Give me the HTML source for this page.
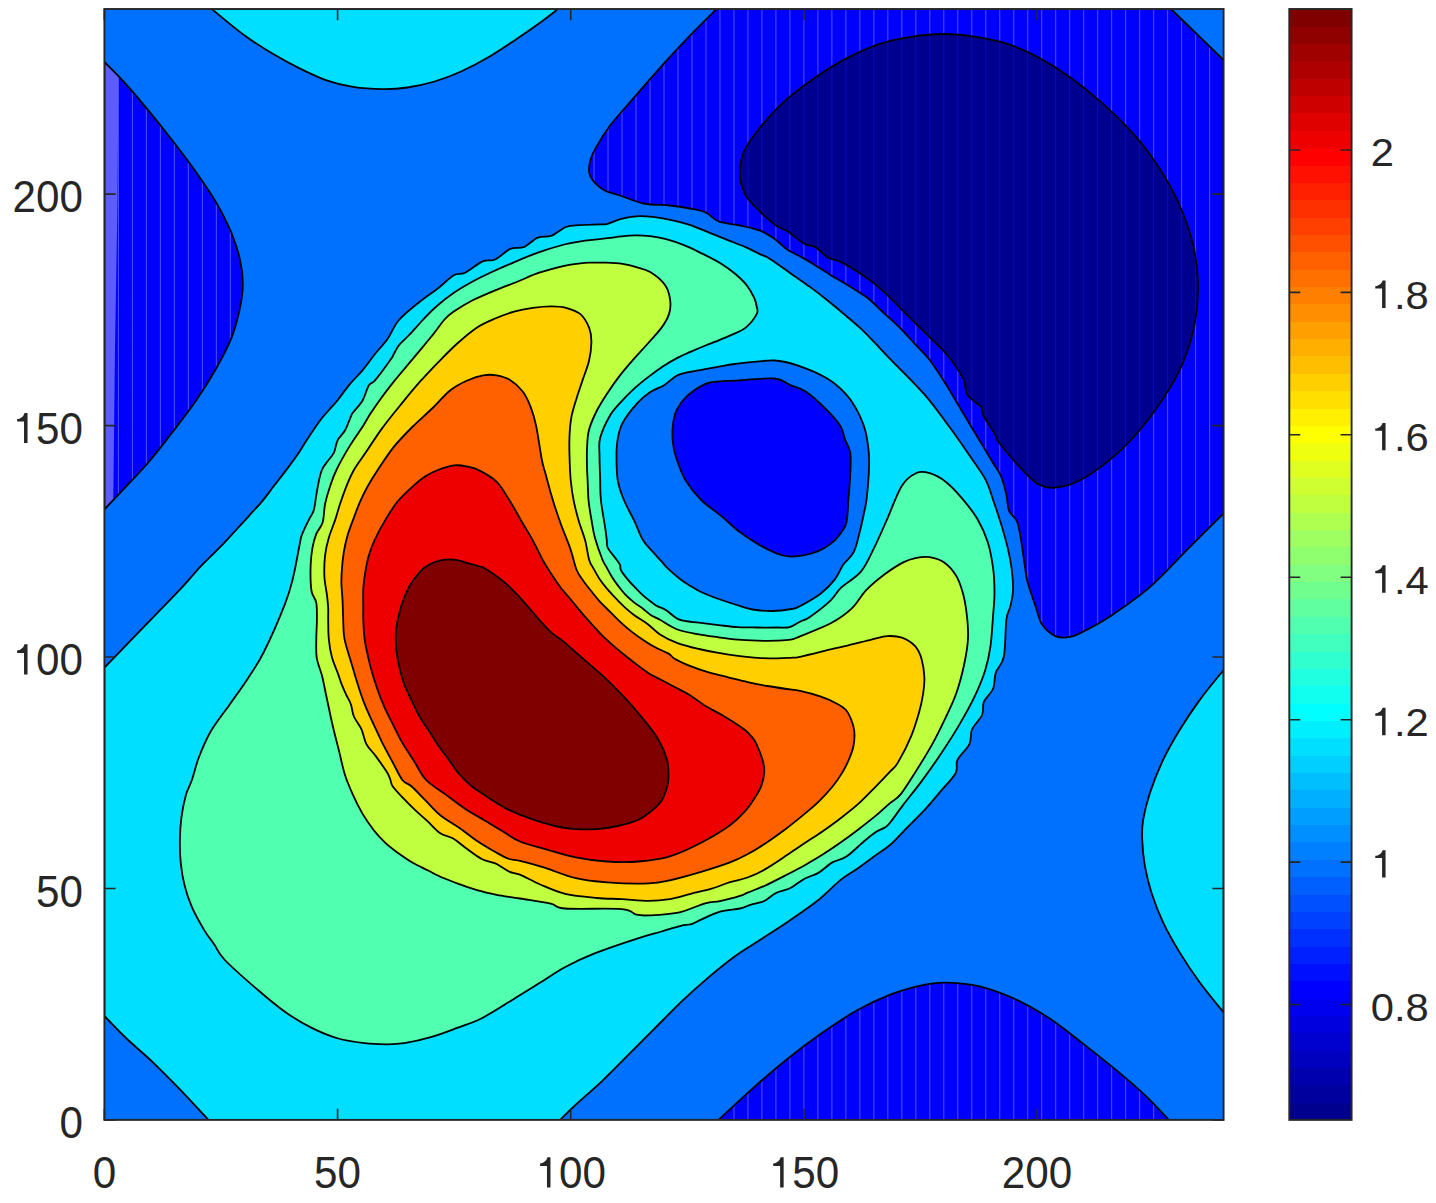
<!DOCTYPE html>
<html><head><meta charset="utf-8"><style>
html,body{margin:0;padding:0;background:#fff;}
svg{display:block;}
text{font-family:"Liberation Sans",sans-serif;fill:#262626;}
</style></head><body>
<svg width="1436" height="1203" viewBox="0 0 1436 1203">
<defs><clipPath id="cp"><rect x="104.4" y="9" width="1119.2" height="1110.9"/></clipPath>
<clipPath id="cb1"><path d="M104.4 62C107.7 65.3 116.7 73.9 123.9 81.9C131.2 89.9 139.9 100.2 147.9 109.9C155.9 119.6 163.8 129.5 171.8 139.8C179.8 150.1 188.5 161.4 195.8 171.7C203.1 182 209.7 191.3 215.7 201.6C221.7 211.9 227.6 223.5 231.7 233.5C235.8 243.5 238.6 252.8 240.4 261.5C242.2 270.1 242.9 277.4 242.8 285.4C242.7 293.4 241.5 300.8 239.7 309.4C237.8 318 235.7 327.3 231.7 337.3C227.7 347.3 221.7 358.6 215.7 369.2C209.7 379.8 203.1 390.5 195.8 401.1C188.5 411.7 179.8 422.7 171.8 433C163.8 443.3 155.9 453.7 147.9 463C139.9 472.3 131.2 481.1 123.9 488.9C116.7 496.6 107.7 506.1 104.4 509.5L104.4 62Z"/></clipPath>
<clipPath id="cblue"><path d="M104.4 62C107.7 65.3 116.7 73.9 123.9 81.9C131.2 89.9 139.9 100.2 147.9 109.9C155.9 119.6 163.8 129.5 171.8 139.8C179.8 150.1 188.5 161.4 195.8 171.7C203.1 182 209.7 191.3 215.7 201.6C221.7 211.9 227.6 223.5 231.7 233.5C235.8 243.5 238.6 252.8 240.4 261.5C242.2 270.1 242.9 277.4 242.8 285.4C242.7 293.4 241.5 300.8 239.7 309.4C237.8 318 235.7 327.3 231.7 337.3C227.7 347.3 221.7 358.6 215.7 369.2C209.7 379.8 203.1 390.5 195.8 401.1C188.5 411.7 179.8 422.7 171.8 433C163.8 443.3 155.9 453.7 147.9 463C139.9 472.3 131.2 481.1 123.9 488.9C116.7 496.6 107.7 506.1 104.4 509.5L104.4 62Z"/><path d="M716.6 9C712.1 13.5 698.8 26.4 689.7 35.9C680.6 45.4 671.1 55.5 661.8 65.8C652.5 76.1 642.4 87.8 633.8 97.8C625.1 107.8 616.2 117.4 609.9 125.7C603.6 134 599.2 141.6 595.9 147.6C592.6 153.6 591 156.9 590 161.6C589 166.3 587.9 170.9 590 175.6C592.1 180.2 597.9 186.2 602.9 189.5C607.9 192.8 613.1 193.2 619.9 195.5C626.7 197.8 635.5 201.8 643.8 203.5C652.1 205.2 662.1 204.7 669.8 205.5C677.4 206.3 683.7 207.3 689.7 208.5C695.7 209.7 700.9 210.3 705.7 212.5C710.5 214.7 713 219.2 718.6 221.4C724.2 223.6 732.8 223.9 739.6 225.4C746.4 226.9 753.8 228.2 759.5 230.4C765.2 232.6 769.3 235.3 774 238.5C778.7 241.7 782.9 246.6 787.5 249.8C792.2 252.9 796.9 254.5 802 257.4C807.1 260.3 812.9 263.8 817.9 266.9C822.9 270 827.2 273.1 831.9 275.9C836.5 278.7 841.1 281.1 845.8 283.9C850.4 286.7 855.8 290.1 859.8 292.8C863.8 295.5 865.6 296.3 869.8 299.8C873.9 303.3 879.7 309.2 884.7 313.8C889.7 318.4 894.7 322.7 899.7 327.7C904.7 332.7 909.6 338.3 914.6 343.7C919.6 349.1 924.5 353.3 929.7 360C934.8 366.7 940.3 375.4 945.6 383.8C950.8 392.2 956.1 401.4 961.4 410.3C966.7 419.1 972 427.9 977.3 436.7C982.6 445.5 989.2 456.6 993.2 463.2C997.2 469.8 998.9 471.1 1001.1 476.4C1003.3 481.7 1005.1 489.2 1006.4 494.9C1007.7 500.7 1007.3 506.4 1009.1 510.8C1010.8 515.2 1015 516.6 1017 521.4C1019 526.3 1019.7 532.4 1021 539.9C1022.3 547.4 1023.8 559.3 1024.9 566.4C1026 573.4 1025.8 575.7 1027.6 582.3C1029.4 588.9 1033.1 599 1035.5 606.1C1038 613.1 1038.8 619.6 1042.1 624.6C1045.5 629.6 1050.7 634.1 1055.4 636.1C1060 638.2 1065.3 637.7 1069.9 636.9C1074.6 636.2 1076.5 635 1083.2 631.6C1089.8 628.2 1098.6 624 1109.6 616.7C1120.6 609.3 1136.1 599 1149.3 587.6C1162.5 576.1 1176.6 560.2 1189 547.9C1201.4 535.5 1217.8 519.2 1223.6 513.5L1223.6 60C1219.2 55.7 1205.7 42.6 1196.9 34.1C1188.2 25.6 1175.3 13.2 1171 9L716.6 9Z"/><path d="M718.5 1119.9C724.1 1114.7 740.8 1098.9 752.2 1088.8C763.6 1078.7 775.4 1068.5 787 1059.2C798.6 1049.9 810.3 1041.2 821.9 1033.1C833.5 1025 845.1 1017 856.7 1010.5C868.3 1004 879.9 998.5 891.5 994.1C903.1 989.8 917 986.3 926.3 984.4C935.6 982.5 938.5 982.3 947.2 982.6C955.9 982.9 967.6 983.5 978.6 986.1C989.6 988.7 1001.8 993.1 1013.4 998.3C1025 1003.5 1036.6 1010 1048.2 1017.5C1059.8 1025 1071.4 1034.6 1083 1043.6C1094.6 1052.6 1107.3 1062.7 1117.8 1071.4C1128.2 1080.1 1137.2 1087.7 1145.7 1095.8C1154.2 1103.9 1165.1 1115.9 1169 1119.9L718.5 1119.9Z"/></clipPath>
<clipPath id="cnavy"><path d="M740 175.6C739.7 168.3 740.6 159.7 743.9 151.7C747.2 143.7 753.2 136 759.9 127.7C766.5 119.4 775.1 109.8 783.8 101.8C792.4 93.8 801.8 86.9 811.8 79.9C821.8 72.9 832.4 65.9 843.7 59.9C855 53.9 868.3 47.8 879.6 43.9C890.9 40 900.9 38.4 911.5 36.8C922.1 35.1 932.8 34 943.4 34C954 34 964.8 35.1 975.4 36.8C986 38.4 996.7 40.4 1007.3 43.9C1017.9 47.4 1028.6 52.2 1039.2 57.9C1049.8 63.6 1060.4 70.2 1071.1 77.9C1081.8 85.6 1092.4 94.2 1103.1 103.8C1113.8 113.4 1125.7 125.1 1135 135.7C1144.3 146.3 1151.6 156.3 1158.9 167.6C1166.2 178.9 1173.2 190.8 1178.9 203.5C1184.6 216.2 1189.6 230.2 1192.8 243.5C1196 256.8 1197.7 270.1 1198 283.4C1198.3 296.7 1197.3 310 1194.8 323.3C1192.3 336.6 1188.1 350.6 1182.8 363.2C1177.5 375.8 1170.2 387.8 1162.9 399.1C1155.6 410.4 1147.7 421 1139 431C1130.3 441 1121 450.6 1111 458.9C1101 467.2 1088.4 476 1079.1 480.8C1069.8 485.6 1061.8 487 1055.2 487.7C1048.6 488.4 1044.5 487.6 1039.2 484.8C1033.9 482 1029.9 477.9 1023.2 470.9C1016.6 463.9 1003.9 449 999.3 443C994.6 437 998 439.7 995.3 435C992.6 430.3 985.6 419.7 983.3 415C981 410.3 983.9 410.3 981.3 407C978.6 403.7 970.4 399.8 967.4 395.1C964.4 390.5 966.7 385.8 963.4 379.1C960.1 372.5 953.4 362.5 947.4 355.2C941.4 347.9 934.1 341.8 927.5 335.2C920.9 328.6 914.1 321.9 907.5 315.3C900.9 308.7 893.6 301 887.6 295.3C881.6 289.6 878.9 286.7 871.6 281.4C864.3 276.1 851 267.4 843.7 263.4C836.4 259.4 832.4 260.1 827.7 257.4C823.1 254.7 819.8 249.7 815.8 247.4C811.8 245.1 808.5 246.2 803.8 243.5C799.1 240.8 792.4 234.5 787.8 231.5C783.1 228.5 780.5 228.8 775.9 225.5C771.2 222.2 764.9 216.5 759.9 211.5C754.9 206.5 749.2 201.6 745.9 195.6C742.6 189.6 740.3 182.9 740 175.6Z"/></clipPath>
<clipPath id="chole"><path d="M720 381.4C715.1 381.9 711 381.4 705.5 383.9C700 386.4 691.5 392 686.7 396.4C681.9 400.8 678.9 405.4 676.6 410.2C674.3 415 673.5 419.9 672.9 425.3C672.3 430.7 672.3 437.2 672.9 442.8C673.5 448.4 674.5 452.9 676.6 459.1C678.7 465.3 681.3 473.2 685.4 480C689.5 486.8 695.1 493.9 701.2 500C707.3 506.1 715.8 511.5 722.1 516.7C728.4 521.9 732.9 526.8 738.8 531.3C744.7 535.8 751.3 540.2 757.6 543.9C763.9 547.6 771.2 551.2 776.4 553.3C781.6 555.4 784.4 556 788.9 556.4C793.4 556.8 798.6 556.3 803.5 555.4C808.4 554.5 813.7 553.1 818.2 551.2C822.7 549.3 827.2 546.5 830.7 543.9C834.2 541.3 836.4 539 839 535.5C841.6 532 844.7 528.9 846.3 523C847.9 517.1 847.7 508.2 848.4 500C849.1 491.8 850 481.7 850.3 473.8C850.6 465.9 851.2 458.3 850.3 452.6C849.4 446.9 846.6 443.8 845 439.4C843.4 435 843.5 431 840.5 426.1C837.5 421.2 832.9 416 827.2 410.3C821.5 404.6 812.3 395.9 806.1 391.7C799.9 387.5 795.5 387.3 790.2 385.1C784.9 382.9 783.6 379.2 774.3 378.5C765 377.8 743.6 380.1 734.6 380.6C725.6 381.1 724.9 380.8 720 381.4Z"/></clipPath>
<pattern id="stb" patternUnits="userSpaceOnUse" x="103.9" y="0" width="13.99" height="1203"><rect x="0" y="0" width="1" height="1203" fill="rgb(80,80,255)"/></pattern>
<pattern id="stn" patternUnits="userSpaceOnUse" x="103.9" y="0" width="13.99" height="1203"><rect x="0" y="0" width="1" height="1203" fill="rgb(10,10,190)"/></pattern>
</defs>
<rect width="1436" height="1203" fill="#fff"/>
<g clip-path="url(#cp)">
<rect x="104.4" y="9.0" width="1119.2" height="1110.9" fill="rgb(0,112,255)"/>
<path d="M104.4 62C107.7 65.3 116.7 73.9 123.9 81.9C131.2 89.9 139.9 100.2 147.9 109.9C155.9 119.6 163.8 129.5 171.8 139.8C179.8 150.1 188.5 161.4 195.8 171.7C203.1 182 209.7 191.3 215.7 201.6C221.7 211.9 227.6 223.5 231.7 233.5C235.8 243.5 238.6 252.8 240.4 261.5C242.2 270.1 242.9 277.4 242.8 285.4C242.7 293.4 241.5 300.8 239.7 309.4C237.8 318 235.7 327.3 231.7 337.3C227.7 347.3 221.7 358.6 215.7 369.2C209.7 379.8 203.1 390.5 195.8 401.1C188.5 411.7 179.8 422.7 171.8 433C163.8 443.3 155.9 453.7 147.9 463C139.9 472.3 131.2 481.1 123.9 488.9C116.7 496.6 107.7 506.1 104.4 509.5L104.4 62Z" fill="rgb(0,0,255)"/>
<path d="M716.6 9C712.1 13.5 698.8 26.4 689.7 35.9C680.6 45.4 671.1 55.5 661.8 65.8C652.5 76.1 642.4 87.8 633.8 97.8C625.1 107.8 616.2 117.4 609.9 125.7C603.6 134 599.2 141.6 595.9 147.6C592.6 153.6 591 156.9 590 161.6C589 166.3 587.9 170.9 590 175.6C592.1 180.2 597.9 186.2 602.9 189.5C607.9 192.8 613.1 193.2 619.9 195.5C626.7 197.8 635.5 201.8 643.8 203.5C652.1 205.2 662.1 204.7 669.8 205.5C677.4 206.3 683.7 207.3 689.7 208.5C695.7 209.7 700.9 210.3 705.7 212.5C710.5 214.7 713 219.2 718.6 221.4C724.2 223.6 732.8 223.9 739.6 225.4C746.4 226.9 753.8 228.2 759.5 230.4C765.2 232.6 769.3 235.3 774 238.5C778.7 241.7 782.9 246.6 787.5 249.8C792.2 252.9 796.9 254.5 802 257.4C807.1 260.3 812.9 263.8 817.9 266.9C822.9 270 827.2 273.1 831.9 275.9C836.5 278.7 841.1 281.1 845.8 283.9C850.4 286.7 855.8 290.1 859.8 292.8C863.8 295.5 865.6 296.3 869.8 299.8C873.9 303.3 879.7 309.2 884.7 313.8C889.7 318.4 894.7 322.7 899.7 327.7C904.7 332.7 909.6 338.3 914.6 343.7C919.6 349.1 924.5 353.3 929.7 360C934.8 366.7 940.3 375.4 945.6 383.8C950.8 392.2 956.1 401.4 961.4 410.3C966.7 419.1 972 427.9 977.3 436.7C982.6 445.5 989.2 456.6 993.2 463.2C997.2 469.8 998.9 471.1 1001.1 476.4C1003.3 481.7 1005.1 489.2 1006.4 494.9C1007.7 500.7 1007.3 506.4 1009.1 510.8C1010.8 515.2 1015 516.6 1017 521.4C1019 526.3 1019.7 532.4 1021 539.9C1022.3 547.4 1023.8 559.3 1024.9 566.4C1026 573.4 1025.8 575.7 1027.6 582.3C1029.4 588.9 1033.1 599 1035.5 606.1C1038 613.1 1038.8 619.6 1042.1 624.6C1045.5 629.6 1050.7 634.1 1055.4 636.1C1060 638.2 1065.3 637.7 1069.9 636.9C1074.6 636.2 1076.5 635 1083.2 631.6C1089.8 628.2 1098.6 624 1109.6 616.7C1120.6 609.3 1136.1 599 1149.3 587.6C1162.5 576.1 1176.6 560.2 1189 547.9C1201.4 535.5 1217.8 519.2 1223.6 513.5L1223.6 60C1219.2 55.7 1205.7 42.6 1196.9 34.1C1188.2 25.6 1175.3 13.2 1171 9L716.6 9Z" fill="rgb(0,0,255)"/>
<path d="M718.5 1119.9C724.1 1114.7 740.8 1098.9 752.2 1088.8C763.6 1078.7 775.4 1068.5 787 1059.2C798.6 1049.9 810.3 1041.2 821.9 1033.1C833.5 1025 845.1 1017 856.7 1010.5C868.3 1004 879.9 998.5 891.5 994.1C903.1 989.8 917 986.3 926.3 984.4C935.6 982.5 938.5 982.3 947.2 982.6C955.9 982.9 967.6 983.5 978.6 986.1C989.6 988.7 1001.8 993.1 1013.4 998.3C1025 1003.5 1036.6 1010 1048.2 1017.5C1059.8 1025 1071.4 1034.6 1083 1043.6C1094.6 1052.6 1107.3 1062.7 1117.8 1071.4C1128.2 1080.1 1137.2 1087.7 1145.7 1095.8C1154.2 1103.9 1165.1 1115.9 1169 1119.9L718.5 1119.9Z" fill="rgb(0,0,255)"/>
<rect x="104.4" y="9" width="1119.2" height="1110.9" fill="url(#stb)" clip-path="url(#cblue)"/>
<path d="M104 58L118.5 58L117.5 200L115 350L113.2 509L104 514Z" fill="rgb(92,92,255)" clip-path="url(#cb1)"/>
<path d="M740 175.6C739.7 168.3 740.6 159.7 743.9 151.7C747.2 143.7 753.2 136 759.9 127.7C766.5 119.4 775.1 109.8 783.8 101.8C792.4 93.8 801.8 86.9 811.8 79.9C821.8 72.9 832.4 65.9 843.7 59.9C855 53.9 868.3 47.8 879.6 43.9C890.9 40 900.9 38.4 911.5 36.8C922.1 35.1 932.8 34 943.4 34C954 34 964.8 35.1 975.4 36.8C986 38.4 996.7 40.4 1007.3 43.9C1017.9 47.4 1028.6 52.2 1039.2 57.9C1049.8 63.6 1060.4 70.2 1071.1 77.9C1081.8 85.6 1092.4 94.2 1103.1 103.8C1113.8 113.4 1125.7 125.1 1135 135.7C1144.3 146.3 1151.6 156.3 1158.9 167.6C1166.2 178.9 1173.2 190.8 1178.9 203.5C1184.6 216.2 1189.6 230.2 1192.8 243.5C1196 256.8 1197.7 270.1 1198 283.4C1198.3 296.7 1197.3 310 1194.8 323.3C1192.3 336.6 1188.1 350.6 1182.8 363.2C1177.5 375.8 1170.2 387.8 1162.9 399.1C1155.6 410.4 1147.7 421 1139 431C1130.3 441 1121 450.6 1111 458.9C1101 467.2 1088.4 476 1079.1 480.8C1069.8 485.6 1061.8 487 1055.2 487.7C1048.6 488.4 1044.5 487.6 1039.2 484.8C1033.9 482 1029.9 477.9 1023.2 470.9C1016.6 463.9 1003.9 449 999.3 443C994.6 437 998 439.7 995.3 435C992.6 430.3 985.6 419.7 983.3 415C981 410.3 983.9 410.3 981.3 407C978.6 403.7 970.4 399.8 967.4 395.1C964.4 390.5 966.7 385.8 963.4 379.1C960.1 372.5 953.4 362.5 947.4 355.2C941.4 347.9 934.1 341.8 927.5 335.2C920.9 328.6 914.1 321.9 907.5 315.3C900.9 308.7 893.6 301 887.6 295.3C881.6 289.6 878.9 286.7 871.6 281.4C864.3 276.1 851 267.4 843.7 263.4C836.4 259.4 832.4 260.1 827.7 257.4C823.1 254.7 819.8 249.7 815.8 247.4C811.8 245.1 808.5 246.2 803.8 243.5C799.1 240.8 792.4 234.5 787.8 231.5C783.1 228.5 780.5 228.8 775.9 225.5C771.2 222.2 764.9 216.5 759.9 211.5C754.9 206.5 749.2 201.6 745.9 195.6C742.6 189.6 740.3 182.9 740 175.6Z" fill="rgb(0,0,143)"/>
<rect x="104.4" y="9" width="1119.2" height="1110.9" fill="url(#stn)" clip-path="url(#cnavy)"/>
<path d="M211.7 9C217.1 13.4 234.3 28 244.3 35.3C254.3 42.6 262.4 47.6 271.5 53C280.6 58.4 289.6 63.4 298.6 67.9C307.7 72.4 316.7 76.9 325.8 80.1C334.9 83.3 343.5 85.4 353 86.9C362.5 88.4 373.8 89 382.8 89.1C391.9 89.2 398.7 88.8 407.3 87.5C415.9 86.2 425.4 84.2 434.5 81.5C443.6 78.8 452.6 75.3 461.6 71.2C470.7 67.1 479.8 62.3 488.8 57C497.9 51.7 506.8 45.5 515.9 39.4C524.9 33.3 536.1 25.5 543.1 20.4C550.1 15.3 555.5 10.9 558 9L211.7 9Z" fill="rgb(0,223,255)"/>
<path d="M104.4 667.6C108.7 663.2 121.4 650.1 130 641.2C138.6 632.3 147.3 623.3 156 614.3C164.7 605.3 174.7 595.3 182 587.4C189.3 579.5 194.9 572.5 200 567.1C205.1 561.7 208.3 558.9 212.5 554.7C216.7 550.6 220.8 546.6 224.9 542.2C229.1 537.8 233.2 533.1 237.4 528.5C241.6 523.9 245.8 519.4 249.9 514.8C254.1 510.2 258.2 506.1 262.3 501.1C266.4 496.1 270.6 490.2 274.8 484.8C279 479.4 283.1 474.2 287.3 468.6C291.5 463 296.7 455.8 299.8 451.2C302.9 446.6 302.7 446.2 306 441.2C309.3 436.2 315.9 426.2 319.7 421C323.5 415.8 326 413.5 329 410C332 406.5 334.1 404.6 337.6 400.2C341.1 395.8 345.9 388.9 350.1 383.9C354.3 378.9 358.5 375.1 362.7 370.1C366.9 365.1 371 359 375.2 353.8C379.4 348.6 383.7 344.4 387.7 338.8C391.7 333.2 393.6 326.2 399 320C404.4 313.8 413.4 306.9 420 301.5C426.6 296.1 433.2 292.1 438.8 287.7C444.4 283.3 449.4 277.7 453.8 275.2C458.2 272.7 460.3 275 465.1 272.7C469.9 270.4 477.7 263.6 482.7 261.4C487.7 259.2 490.6 261.6 495.2 259.5C499.8 257.4 505.5 251 510.3 248.9C515.1 246.8 519.4 248.9 524 247C528.6 245.1 533.2 239.5 537.8 237.6C542.4 235.7 546.9 237.5 551.6 235.7C556.3 233.9 561.4 228.8 566 227C570.6 225.2 573.5 225.5 579.2 225.1C584.9 224.7 595.3 224.6 600 224.4C604.7 224.2 604 224.7 607.5 223.8C611 222.9 616.5 220.1 621.3 218.8C626.1 217.6 631.2 216.6 636.4 216.3C641.6 216 646.9 216.3 652.7 216.9C658.6 217.5 665.2 218.7 671.5 220.1C677.8 221.5 684 223 690.3 225.1C696.6 227.2 702.8 230.1 709.1 232.6C715.4 235.1 721.6 237.6 727.9 240.1C734.2 242.6 741.5 245.3 746.7 247.6C751.9 249.9 755.3 252 759.2 253.9C763.1 255.8 764.9 255.7 770 258.9C775.1 262.1 783.4 268.2 790 272.9C796.6 277.6 803.6 282.2 809.9 286.9C816.2 291.5 822.1 296.1 827.9 300.8C833.7 305.5 839.5 310.3 844.8 314.8C850.1 319.3 854.8 323.1 859.8 327.7C864.8 332.3 869.7 337.5 874.7 342.7C879.7 347.9 881.4 350 889.7 358.6C898 367.2 914.2 382.7 924.4 394.4C934.6 406.1 943.3 418.6 950.8 428.8C958.3 439 963.6 446.9 969.4 455.3C975.1 463.7 981.3 471.6 985.3 479.1C989.3 486.6 990.6 492.7 993.2 500.2C995.8 507.7 998.7 516.1 1001.1 524.1C1003.5 532.1 1005.9 540.4 1007.7 547.9C1009.5 555.4 1010.8 562 1011.7 569C1012.6 576 1013.2 584 1013 590.2C1012.8 596.4 1011.5 601.2 1010.4 606.1C1009.3 611 1007.5 610.8 1006.4 619.3C1005.3 627.8 1005.6 647.9 1003.8 656.8C1002 665.7 997.6 667.3 995.8 672.6C994 677.9 995.2 683.6 993.2 688.5C991.2 693.4 985.8 697.3 983.9 701.7C982 706.1 984.1 710.4 982.1 715C980.1 719.6 974.1 724.6 972 729.5C969.9 734.4 971.8 739 969.4 744.1C967 749.2 959.8 755.1 957.5 760C955.2 764.9 958.5 767.9 955.6 773.2C952.7 778.5 945.5 785.5 940.3 791.7C935.1 797.9 930.1 804 924.4 810.2C918.7 816.4 911.6 823 905.9 828.8C900.2 834.6 895.1 840.6 890 845C884.9 849.4 880.8 851.5 875.5 855.4C870.2 859.3 863.8 864.1 858 868.2C852.2 872.3 847.2 874.6 840.6 879.9C834 885.2 827.2 893 818.4 900C809.5 907 797 915.5 787.5 922C778 928.5 769.9 933.5 761.1 939.2C752.3 944.9 743.4 950 734.6 956.4C725.8 962.8 717 970.1 708.2 977.6C699.4 985.1 690.5 993 681.7 1001.4C672.9 1009.8 664 1019.1 655.2 1027.9C646.4 1036.7 637.6 1045.6 628.8 1054.4C620 1063.2 611.1 1072.4 602.3 1080.8C593.5 1089.2 582.8 1098.1 575.8 1104.6C568.8 1111.1 562.6 1117.4 560 1119.9L208.5 1119.9C203.7 1114.7 188.7 1098.4 179.4 1088.8C170.1 1079.2 161.7 1070.7 152.9 1062.3C144.1 1053.9 134.6 1046.2 126.5 1038.5C118.4 1030.8 108.1 1019.8 104.4 1016L104.4 667.6Z" fill="rgb(0,223,255)"/>
<path d="M1223.6 670C1219.6 675 1207.1 689.9 1199.8 699.9C1192.5 709.9 1185.9 719.8 1179.8 729.8C1173.7 739.8 1168.2 749.2 1163.2 759.7C1158.2 770.2 1153.2 783 1149.9 793C1146.6 803 1144.5 811.9 1143.2 819.6C1141.9 827.4 1141.9 831.8 1142.2 839.5C1142.5 847.2 1143.4 857.2 1144.9 866.1C1146.5 875 1148.5 883.3 1151.5 892.7C1154.5 902.1 1158.5 912.6 1163.2 922.6C1167.9 932.6 1173.7 942.6 1179.8 952.6C1185.9 962.6 1192.5 972.5 1199.8 982.5C1207.1 992.5 1219.6 1007.4 1223.6 1012.4L1223.6 670Z" fill="rgb(0,223,255)"/>
<path d="M422.8 320C418.3 324.8 413.1 330.8 409.1 335C405.1 339.2 401.5 342 399 345.1C396.5 348.2 395.4 351.3 394 353.8C392.6 356.3 393.4 355.7 390.3 360.1C387.2 364.5 378.8 376 375.2 380.2C371.6 384.4 371 381.9 368.9 385.2C366.8 388.5 365.2 395.8 362.7 400.2C360.2 404.6 355.8 409 353.9 411.5C352 414 352.9 412.2 351.4 415.3C349.9 418.4 347.4 426.1 345.1 430.3C342.8 434.5 339.5 436.5 337.6 440.3C335.7 444.1 335.7 449.1 333.8 452.9C331.9 456.7 328.3 460 326.3 462.9C324.3 465.8 323.1 466.9 321.9 470C320.6 473.1 319.7 477.1 318.8 481.3C317.9 485.5 317.1 490.3 316.3 495.1C315.5 499.9 314.9 506.4 313.8 510.1C312.8 513.9 311.5 514.7 310 517.6C308.5 520.5 306.4 524.6 305 527.7C303.6 530.8 302.2 533.5 301.3 536.4C300.4 539.3 300.9 538.4 299.5 545.2C298.1 552 295.6 567.3 293.2 577C290.8 586.7 290 591 285.2 603.4C280.4 615.8 270.3 639.1 264.1 651.5C257.9 663.9 253.9 669.1 248.2 677.9C242.5 686.7 235.9 695.6 229.7 704.4C223.5 713.2 216.2 722 211.1 730.8C206 739.6 202.2 748.8 199 757C195.8 765.2 194.1 773.7 191.9 780C189.7 786.3 187.7 788.8 185.9 795C184.2 801.2 182.4 809.9 181.4 817.4C180.4 824.9 180 832.4 179.9 839.9C179.8 847.4 179.9 854.8 180.7 862.3C181.4 869.8 182.5 877.2 184.4 884.7C186.3 892.2 188.7 899.7 191.9 907.2C195.2 914.7 200.2 923.4 203.9 929.6C207.6 935.8 210.8 939.5 214.3 944.6C217.8 949.7 217.4 952.3 224.8 960C232.2 967.7 248.7 982.1 258.8 990.8C268.9 999.5 276.4 1005.8 285.2 1012C294 1018.2 302.9 1023.5 311.7 1027.9C320.5 1032.3 329.4 1036 338.2 1038.5C347 1041 356.7 1042.2 364.6 1043.2C372.5 1044.2 379.2 1044.3 385.8 1044.3C392.4 1044.3 396.8 1044.4 404.3 1043.2C411.8 1042 422 1039.8 430.8 1037.2C439.6 1034.7 448.7 1031.1 457.2 1027.9C465.7 1024.7 472.5 1023 481.8 1018.2C491.1 1013.5 503.4 1005.3 513.1 999.4C522.9 993.5 531.6 988 540.3 982.6C549 977.2 556.2 971.9 565.3 967C574.3 962.1 582.8 958.1 594.6 953.4C606.5 948.7 625.3 942.4 636.4 938.8C647.5 935.1 653.6 933.8 661.4 931.5C669.2 929.2 678.3 926.4 683.4 925.2C688.5 924 688.8 925 691.7 924.1C694.7 923.2 696.4 921.7 701.1 919.6C705.8 917.5 713.5 913.5 720 911.6C726.5 909.8 734.9 909.6 740 908.5C745.1 907.4 747 905.8 750.5 904.8C754 903.8 758.5 903 761.1 902.2C763.7 901.4 763.5 901.6 766.1 900C768.7 898.4 772.4 894.7 776.5 892.7C780.6 890.7 785.8 890.3 790.5 888C795.2 885.7 799.9 881.2 804.5 878.7C809.1 876.2 813.8 875.6 818.4 872.9C823 870.2 827.7 865.1 832.4 862.4C837.1 859.7 841.2 860.1 846.4 856.6C851.6 853.1 858.9 845.6 863.8 841.5C868.6 837.4 872 834.5 875.5 832.2C879 829.9 882.4 829.1 884.8 827.5C887.2 825.9 886.9 826.6 890 822.8C893.1 819 897.9 811.8 903.2 804.9C908.5 798 915.5 789.5 921.7 781.1C927.9 772.7 934.1 764 940.3 754.7C946.5 745.5 953.1 735.3 958.8 725.6C964.5 715.9 970.3 705.7 974.7 696.4C979.1 687.1 982.7 678.4 985.3 670C987.9 661.6 989.2 655.5 990.5 646.2C991.8 636.9 992.5 622.9 993.2 614C993.9 605.1 994.5 600.4 994.5 592.9C994.5 585.4 994.3 577.4 993.2 569C992.1 560.6 990.5 551 987.9 542.6C985.2 534.2 981.7 526.3 977.3 518.8C972.9 511.3 966.7 503.8 961.4 497.6C956.1 491.4 950.9 485.8 945.6 481.7C940.3 477.6 934.6 474.6 929.7 473.2C924.8 471.8 921 470.9 916.4 473C911.8 475.1 906.8 478.1 901.9 485.7C897 493.3 891.9 508.4 887.3 518.8C882.7 529.2 878.5 539.1 874.1 547.9C869.7 556.7 866.4 565.1 860.9 571.7C855.4 578.3 846.1 582.9 841.1 587.7C836.1 592.5 835.9 595.4 830.7 600.3C825.5 605.2 814.9 613.4 809.8 617C804.7 620.6 803.4 620 800 621.7C796.6 623.4 793.5 626.1 789.7 627.1C785.9 628.1 782.4 627.4 777 627.5C771.6 627.6 764 627.6 757.5 627.5C751 627.4 744.5 627.5 738 627.1C731.5 626.7 725 625.8 718.5 625.1C712 624.4 705.5 623.6 699 622.7C692.5 621.8 685 621.8 679.5 619.7C674 617.6 669.6 612.3 665.8 610C662 607.7 659.4 607.4 656.9 606C654.4 604.6 653.4 603.6 651 601.8C648.6 600 645.5 597.6 642.7 595.1C639.9 592.6 636.9 589.5 634.3 586.7C631.6 583.9 629 581.2 626.8 578.4C624.6 575.6 622 572.2 620.9 570C619.8 567.8 620.8 566.7 620.1 565C619.4 563.3 618.8 562.9 616.8 560C614.8 557.1 609.5 551.1 607.8 547.8C606.1 544.5 607.2 543.4 606.8 540C606.3 536.6 606.1 533.9 605.1 527.2C604.1 520.5 601.7 507.9 600.9 500C600.1 492.1 600.4 487.4 600.2 480C600 472.6 599.5 462.4 599.5 455.4C599.5 448.4 598.4 444.5 600.2 437.8C602 431.1 606.5 421.5 610.2 415.2C614 408.9 618.5 404.8 622.7 400.2C626.9 395.6 630.9 391.7 635.3 387.7C639.7 383.7 644.5 379.9 649.1 376.4C653.7 372.8 658 369.5 662.8 366.4C667.6 363.3 673.3 360 677.9 357.6C682.5 355.2 685.6 354 690.4 351.9C695.2 349.8 702.5 346.7 706.7 345C710.9 343.3 711.5 343.3 715.4 341.7C719.3 340.1 725.4 337.7 730.4 335.4C735.4 333.1 741 331.4 745.4 327.9C749.8 324.3 754.8 317.7 756.7 314.1C758.6 310.5 757.1 309.2 756.7 306.5C756.3 303.8 755.9 301.4 754.2 297.8C752.5 294.2 749.8 289.2 746.7 285.2C743.6 281.2 739.6 277.6 735.4 274C731.2 270.4 727 267.2 721.6 263.9C716.2 260.5 709.1 257 702.8 253.9C696.5 250.8 690.3 247.6 684 245.1C677.7 242.6 670.8 240.4 665.2 238.9C659.6 237.4 655.2 236.7 650.2 236.1C645.2 235.5 639.9 235.2 635.1 235.3C630.3 235.4 625.9 235.9 621.3 236.4C616.7 236.9 612.7 237.6 607.5 238.2C602.3 238.8 594.5 239.6 590 240.1C585.5 240.6 584.7 240.7 580.4 241.4C576.1 242.1 571.3 242.6 564.2 244.5C557.1 246.4 546.8 249.4 537.8 252.6C528.8 255.8 518.2 260.5 510.3 263.9C502.4 267.2 496.5 269.8 490.2 272.7C483.9 275.6 478.7 278.1 472.6 281.5C466.5 284.9 459.9 288.6 453.8 292.8C447.8 297 441.5 302 436.3 306.5C431.1 311 427.3 315.2 422.8 320Z" fill="rgb(80,255,175)"/>
<path d="M445 319C441.3 323.1 435.9 330.9 431.6 336.3C427.3 341.7 423.3 346.3 419.1 351.3C414.9 356.3 410.7 361.4 406.5 366.4C402.3 371.4 398.2 376.2 394 381.4C389.8 386.6 385.5 392.3 381.5 397.7C377.5 403.1 373.3 409.2 370.2 414C367.1 418.8 366 421.3 362.7 426.5C359.4 431.7 354.5 438.1 350.1 445.4C345.7 452.6 339.7 463.2 336.4 470C333.1 476.8 332 480.7 330.1 486.3C328.2 491.9 326.4 497.8 325.1 503.8C323.9 509.9 324.1 517.6 322.6 522.6C321.1 527.6 318 529.7 316.3 533.9C314.6 538.1 313.4 542.7 312.5 547.7C311.6 552.7 311 558.1 310.7 564C310.4 569.9 310.5 578 310.7 582.8C310.9 587.6 311 589.5 311.9 592.8C312.8 596.1 315.5 598.3 316.3 602.8C317.1 607.3 316.9 614 316.9 620C316.9 626 316.3 632.5 316.3 638.8C316.3 645.1 315.8 651.5 316.7 657.6C317.6 663.7 320.5 669.8 321.9 675.2C323.3 680.6 324 684.8 325.1 690.2C326.2 695.6 327.4 701 328.8 707.7C330.2 714.4 332.1 723.2 333.8 730.3C335.5 737.4 337 742.9 338.9 750.4C340.8 757.9 342.7 767.8 345 775C347.3 782.2 349.6 787.3 352.5 793.8C355.4 800.3 359.1 807.8 362.6 813.9C366.2 820 370.1 825.4 373.8 830.2C377.6 835 381.1 838.9 385.1 842.7C389.1 846.5 393.1 849.4 397.7 852.8C402.3 856.1 407.7 859.9 412.7 862.8C417.7 865.7 422.7 867.8 427.7 870.3C432.7 872.8 437.6 875.5 442.8 877.8C448 880.1 453.2 882 459.1 884.1C465 886.2 471.6 888.6 477.9 890.4C484.2 892.2 489.7 893.4 496.7 894.8C503.7 896.1 511 897 520 898.5C529 900 543.2 902 550.7 903.7C558.2 905.4 553.4 907.6 565.3 908.5C577.1 909.4 609.9 908.1 621.8 909.1C633.6 910.1 631.9 913.7 636.4 914.7C640.9 915.8 641.9 915.7 648.9 915.4C655.9 915.1 668.8 914.7 678.2 912.7C687.6 910.7 698.3 905.2 705.3 903.3C712.2 901.4 714.1 902.4 719.9 901.2C725.7 900 735.4 897.3 740 895.9C744.6 894.5 743.4 894.4 747.5 892.7C751.6 891 758.1 888.8 764.9 885.7C771.7 882.6 781.4 877.5 788.2 874C795 870.5 799.8 868 805.6 864.7C811.4 861.4 817.3 858 823.1 854.3C828.9 850.6 834.8 846.7 840.6 842.6C846.4 838.5 852.2 834.2 858 829.8C863.8 825.3 870.2 820.3 875.5 815.9C880.8 811.5 885.8 806.7 890 803.1C894.2 799.5 896.2 799.8 900.6 794.4C905 789 911.1 778.9 916.4 770.5C921.7 762.1 927.4 752.9 932.3 744.1C937.2 735.3 941.6 726 945.6 717.6C949.6 709.2 953 702.6 956.1 693.8C959.2 685 962.1 674 964.1 664.7C966.1 655.4 967.6 646.7 968 638.2C968.4 629.8 967.6 621.6 966.7 614C965.8 606.4 964.6 599.2 962.8 592.8C961 586.4 959.2 580.7 956.1 575.6C953 570.5 948.6 565.5 944.2 562.4C939.8 559.3 934.3 557.9 929.7 557.1C925.1 556.4 920.8 557 916.4 557.9C912 558.8 908.5 559.7 903.2 562.4C897.9 565.1 890.9 569.7 884.7 574.3C878.5 578.9 871.7 584.5 866.2 590.2C860.7 595.9 857.5 603.1 851.6 608.6C845.7 614.1 839.3 618.7 830.7 623.3C822.1 627.9 806.7 633.6 800 636.3C793.3 639 794.4 639 790.6 639.7C786.8 640.4 782.5 640.5 777 640.7C771.5 640.9 764 640.9 757.5 640.7C751 640.5 744.5 640.3 738 639.7C731.5 639.1 725 638.2 718.5 637.3C712 636.4 705.8 635.7 699 634.4C692.2 633.1 684 632 677.5 629.5C671 627 664.4 622.1 660 619.7C655.6 617.3 653.9 617.1 651 615.2C648.1 613.3 645.5 610.6 642.7 608.5C639.9 606.4 637.2 605 634.3 602.6C631.4 600.2 627.9 597.2 625.1 594.3C622.3 591.4 619.8 588 617.6 585.1C615.4 582.2 613.6 579.6 611.8 576.7C610 573.8 608.2 570.3 606.7 567.5C605.2 564.7 604.6 564.9 602.6 560C600.6 555.1 596.9 544.7 595 538C593.1 531.3 592.6 526.3 591.5 520C590.4 513.7 589.1 506.7 588.5 500C587.9 493.3 587.9 485.4 587.6 480C587.4 474.6 587.1 473 587 467.9C586.9 462.8 586.7 455.4 587 449.1C587.3 442.8 587.3 436.6 588.9 430.3C590.5 424 593.3 417.8 596.4 411.5C599.5 405.2 603.7 398.8 607.7 392.7C611.7 386.6 616 380.5 620.2 375.1C624.4 369.7 628.4 365.1 632.8 360.1C637.2 355.1 641.7 350.4 646.5 345C651.3 339.6 657.6 333 661.4 327.9C665.1 322.8 667.5 318.7 669 314.1C670.5 309.5 670.8 305.1 670.2 300.3C669.6 295.5 668.5 289.9 665.2 285.2C661.9 280.5 655 275.1 650.2 272.1C645.4 269.1 641 268.5 636.4 267.1C631.8 265.7 627.6 264.6 622.6 263.9C617.6 263.2 611.7 262.9 606.3 262.7C600.9 262.5 594.3 262.6 590 262.7C585.7 262.8 584.7 262.8 580.4 263.3C576.1 263.8 571.1 264.2 564.2 265.8C557.3 267.4 546.8 270.1 539.1 272.7C531.4 275.3 525.1 278.6 517.8 281.5C510.5 284.4 502.7 287.2 495.2 290.3C487.7 293.4 479.5 296.8 472.6 300.3C465.7 303.9 458.4 308.5 453.8 311.6C449.2 314.7 448.7 314.9 445 319Z" fill="rgb(191,255,64)"/>
<path d="M476.4 327.9C470 332.1 463.1 338.2 456.7 344C450.3 349.8 444.2 356.2 437.9 362.6C431.6 369.1 425.4 375.6 419.1 382.7C412.8 389.8 406.6 397.5 400.3 405.2C394 412.9 387.1 421.4 381.5 429.1C375.9 436.8 371 444.8 366.4 451.6C361.8 458.4 357.2 464.2 353.9 470C350.6 475.8 348.7 480.7 346.4 486.3C344.1 491.9 342 498.2 340.1 503.8C338.2 509.4 337 514.5 335.1 520.1C333.2 525.8 330.5 531.9 328.8 537.7C327.1 543.6 325.8 548.7 325.1 555.2C324.4 561.7 324.1 569.8 324.4 576.5C324.7 583.2 326.4 590.2 327 595.4C327.6 600.6 328 603.8 328.2 607.9C328.4 612 328.1 614.9 328.2 620C328.3 625.1 328.2 632.5 328.8 638.8C329.4 645.1 330.5 652 332 657.6C333.5 663.2 335.9 668 337.6 672.6C339.3 677.2 340.5 681.4 342 685.2C343.5 689 344.9 692.1 346.4 695.2C347.9 698.3 349.6 700.5 350.8 704C352.1 707.5 352.1 712.3 353.9 716.5C355.7 720.7 359.3 724.5 361.4 729.1C363.5 733.7 364.1 739.7 366.4 744.1C368.7 748.5 371.9 750.9 375.2 755.4C378.5 759.9 383.9 767.4 386.4 771.3C388.9 775.2 389.1 776.3 390.1 778.8C391.1 781.3 390.5 783.2 392.6 786.3C394.7 789.4 398.9 793.6 402.7 797.6C406.5 801.6 411 806.1 415.2 810.1C419.4 814.1 423.5 817.5 427.7 821.4C431.9 825.3 436.1 830.5 440.3 833.3C444.5 836.1 448.6 835.9 452.8 838.3C457 840.7 460.6 844.2 465.4 847.7C470.2 851.2 476.7 856.4 481.7 859C486.7 861.6 490.8 861.3 495.4 863.4C500 865.5 505.1 869.7 509.2 871.6C513.3 873.5 514.8 872.6 520 874.7C525.2 876.9 532.8 881.3 540.3 884.5C547.8 887.7 555.9 891.6 565.3 893.9C574.7 896.1 587.3 897.1 596.7 898C606.1 898.9 613.1 898.6 621.8 899.1C630.5 899.6 640.9 900.8 648.9 900.8C656.9 900.8 662.8 900.2 669.8 899.1C676.8 898 683.7 895.6 690.7 893.9C697.7 892.1 705.1 890.5 711.6 888.6C718.1 886.7 724 884.1 730 882.2C736 880.4 741.7 879.6 747.5 877.5C753.3 875.4 758.1 873.3 764.9 869.4C771.7 865.5 781.4 858.8 788.2 854.3C795 849.8 799.8 846.5 805.6 842.6C811.4 838.7 817.3 835.1 823.1 831C828.9 826.9 834.8 822.7 840.6 818.2C846.4 813.7 852.2 809.4 858 804.2C863.8 799 870.2 792.2 875.5 786.8C880.8 781.4 886.3 775.6 890 771.6C893.7 767.6 894.4 768.5 897.9 762.6C901.4 756.7 907.7 744.5 911.2 736.1C914.7 727.7 917.1 719.3 919.1 712.3C921.1 705.2 922.2 699.5 923.1 693.8C924 688.1 924.6 683.6 924.4 677.9C924.2 672.2 923.2 664.7 921.7 659.4C920.2 654.1 918.4 649.8 915.1 646.2C911.8 642.6 906.5 639.4 901.9 637.7C897.3 636 892.4 635.8 887.3 636.1C882.2 636.4 878.5 637.9 871.5 639.6C864.5 641.3 851.8 644.6 845 646.2C838.2 647.8 838.2 647.6 830.7 649.4C823.2 651.2 806.7 655.4 800 656.8C793.3 658.2 794.4 657.5 790.6 657.8C786.8 658 782.5 658.3 777 658.3C771.5 658.3 764 658.2 757.5 657.8C751 657.4 744.5 656.6 738 655.8C731.5 655 725 654 718.5 652.9C712 651.8 705.8 650.6 699 649C692.2 647.4 684 645.5 677.5 643.1C671 640.7 665.1 637.7 660 634.4C654.9 631.1 651.2 626.7 646.9 623.5C642.6 620.3 638.1 618 634.3 615.2C630.5 612.4 627.5 609.7 624.3 606.8C621.1 603.9 618 600.7 615.1 597.6C612.2 594.5 609.4 591.6 606.7 588.4C604.1 585.2 601.4 581.7 599.2 578.4C597 575.1 595.1 571.5 593.4 568.4C591.7 565.3 590.6 564.7 589.2 560C587.8 555.3 586.8 546.6 585.1 540.2C583.4 533.8 580.8 527.9 578.9 521.4C577 514.9 575.2 508.2 573.8 501.3C572.4 494.4 571.4 487.6 570.7 480C570 472.4 569.7 462.6 569.5 455.4C569.3 448.1 569.2 442.8 569.5 436.5C569.8 430.2 570.1 424 571.3 417.7C572.4 411.4 574.5 405.2 576.4 398.9C578.3 392.6 580.5 386.4 582.6 380.1C584.7 373.8 587.4 367.6 588.9 361.3C590.4 355 591.3 348.1 591.4 342.5C591.5 336.9 591 332.6 589.2 327.9C587.4 323.2 584.3 317.5 580.4 314.1C576.5 310.8 570.8 309.1 566 307.8C561.2 306.5 557.1 306.3 551.6 306.3C546.1 306.3 539.1 306.9 532.8 307.8C526.5 308.7 520.3 309.8 514 311.6C507.7 313.4 501.5 315.8 495.2 318.5C488.9 321.2 482.8 323.6 476.4 327.9Z" fill="rgb(255,207,0)"/>
<path d="M520 860.9C514.1 859.4 513.1 860.4 509.2 859C505.3 857.6 501.9 855.7 496.7 852.8C491.5 849.9 484.2 845.7 477.9 841.5C471.6 837.3 465.4 832.1 459.1 827.7C452.8 823.3 446 819.8 440.3 815.2C434.6 810.6 430 804.9 425.2 800.1C420.4 795.3 415.2 789.6 411.4 786.3C407.6 782.9 405.6 784.2 402.4 780C399.2 775.8 395.4 767.2 392 761C388.6 754.8 385.6 749.4 382.3 742.9C379.1 736.4 375.6 728.7 372.5 722C369.4 715.3 366.6 709.4 364 702.7C361.4 696 359.1 688.7 357 682C354.9 675.3 353.3 669.6 351.2 662.4C349.1 655.2 345.8 645.9 344.5 638.8C343.2 631.7 343.5 626.2 343.2 620C342.9 613.8 342.9 607.8 342.6 601.6C342.3 595.4 341.5 588.4 341.4 582.8C341.3 577.2 341.6 573 342 567.8C342.4 562.6 343 556.9 343.9 551.5C344.8 546.1 345.9 540.9 347.6 535.2C349.3 529.6 351.8 523.2 353.9 517.6C356 512 357.9 506.5 360.2 501.3C362.5 496.1 364.8 491.5 367.7 486.3C370.6 481.1 373.3 476.6 377.7 470C382.1 463.4 388.1 453.9 394 446.6C399.9 439.4 406.5 432.8 412.8 426.5C419.1 420.2 425.3 415.1 431.6 409C437.9 402.9 444.3 395 450.4 390.2C456.5 385.4 462.5 382.7 468 380.2C473.5 377.7 478.4 376.1 483.2 375.3C487.9 374.5 492.1 374.6 496.5 375.3C500.9 376.1 505.3 377.1 509.7 379.8C514.1 382.5 519.4 387.1 522.9 391.7C526.4 396.3 528.7 401.9 530.9 407.6C533.1 413.3 534.4 417.4 536.2 426.1C538 434.8 540.4 452.3 541.9 460C543.4 467.7 543.8 467.4 545.2 472.5C546.6 477.6 548.5 485 550.2 490.9C551.9 496.8 553.2 501.6 555.2 507.6C557.2 513.6 559.4 520.1 561.9 526.9C564.4 533.7 567.8 541.4 570.3 548.6C572.8 555.8 574.5 564.6 576.7 570C578.9 575.4 580.9 577.3 583.4 580.9C585.9 584.5 589 588.3 591.8 591.8C594.6 595.3 597 598.5 600.1 601.8C603.2 605.1 606.8 608.5 610.1 611.8C613.5 615.1 616.6 618.4 620.2 621.8C623.8 625.1 628 628.8 631.9 631.9C635.8 635 639.6 637.6 643.6 640.2C647.6 642.9 651.9 645.6 656.1 647.8C660.3 650 665.5 651.8 668.6 653.6C671.7 655.4 671.2 656.7 674.6 658.7C678 660.7 683.5 663.3 689.2 665.6C694.9 667.9 702.2 670.5 708.7 672.4C715.2 674.3 721.7 675.7 728.2 677.3C734.7 678.9 741.2 680.6 747.7 682.1C754.2 683.6 760.7 684.9 767.2 686C773.7 687.1 781.2 688.2 786.7 689C792.2 689.8 794.4 689.7 800 690.9C805.6 692.1 814 694.3 820.2 696.4C826.4 698.5 832.7 701.4 837 703.7C841.3 706 843.7 707.5 846 710C848.3 712.5 849.6 715.5 851 719C852.4 722.5 853.9 726.5 854.3 731C854.7 735.5 854.4 741.2 853.5 746C852.6 750.8 850.5 755.7 848.7 760C846.9 764.3 845.6 767.1 842.9 771.6C840.2 776.1 836.5 781.8 832.4 786.8C828.3 791.8 823.4 797 818.4 801.9C813.4 806.8 807.8 811.2 802.2 815.9C796.6 820.5 790.9 825.1 784.7 829.8C778.5 834.4 771.1 839.7 764.9 843.8C758.7 847.9 753.3 851.2 747.5 854.3C741.7 857.4 737.7 859.5 730 862.4C722.3 865.3 711.1 868.9 701.1 871.9C691.1 874.9 678.5 878.4 669.8 880.3C661.1 882.2 659.3 883 648.9 883.4C638.5 883.8 619.3 883.3 607.1 882.4C594.9 881.5 586.2 880.7 575.8 878.2C565.4 875.8 553.8 870.6 544.5 867.7C535.2 864.8 525.9 862.4 520 860.9Z" fill="rgb(255,96,0)"/>
<path d="M363.3 620C363.1 614.9 363.3 613 363.3 607.9C363.3 602.8 363 595 363.3 589.1C363.6 583.2 364.3 578.4 365.2 572.8C366.1 567.1 367.2 560.9 368.9 555.2C370.6 549.6 372.5 544.8 375.2 538.9C377.9 533 381.4 526.4 385.2 520.1C389 513.8 393.2 506.9 397.8 501.3C402.4 495.7 408.2 490.5 412.8 486.3C417.4 482.1 421.2 479 425.4 476.3C429.6 473.6 433.1 471.8 437.9 470C442.7 468.2 449.2 465.9 454.2 465.4C459.2 464.8 463.6 465.8 468 466.7C472.4 467.6 475.9 468.6 480.6 471.1C485.4 473.6 491.7 476.9 496.5 481.7C501.3 486.5 505.1 493.4 509.3 500.1C513.5 506.8 517.9 515.1 521.8 521.8C525.7 528.5 529.2 533.8 532.7 540.2C536.2 546.6 539.7 554.5 542.7 560C545.8 565.5 548.1 569 551 573.5C553.9 578 557.1 582.8 560 586.7C562.9 590.6 565.6 593.4 568.4 596.8C571.2 600.1 573.9 603.5 576.7 606.8C579.5 610.1 582.3 613.6 585.1 616.8C587.9 620 590.6 622.9 593.4 626C596.2 629.1 598.7 632.1 601.8 635.2C604.9 638.3 608.3 641.3 611.8 644.4C615.3 647.5 619 650.6 622.7 653.6C626.4 656.6 629.6 659.2 634 662.5C638.4 665.8 644.6 670.6 648.9 673.4C653.2 676.2 655.7 676.9 660 679.2C664.3 681.5 669.7 684.4 674.6 687C679.5 689.6 684 691.6 689.2 694.8C694.4 698 700.6 703 706 706.3C711.4 709.6 716.8 712 721.5 714.7C726.2 717.4 730.1 720 734 722.5C737.9 725 741.8 727.5 744.7 729.8C747.6 732.1 749.5 734.2 751.5 736.5C753.5 738.8 754.5 739.9 756.4 743.8C758.2 747.7 761.3 755.4 762.6 760C763.9 764.6 764.5 767.3 764.3 771.6C764.1 775.9 763 781.1 761.4 785.6C759.8 790.1 757.1 794.1 754.4 798.4C751.7 802.7 749.2 806.7 745.1 811.2C741 815.7 737.3 820 730 825.2C722.7 830.5 711.1 837.5 701.1 842.7C691.1 847.9 680.2 853.2 669.8 856.3C659.4 859.4 649 860.6 638.5 861.5C628 862.4 617.6 862.2 607.1 861.5C596.6 860.8 586.2 859.4 575.8 857.3C565.4 855.2 553.8 851.5 544.5 848.9C535.2 846.3 526.9 844.4 520 841.5C513.1 838.6 509 835 503 831.5C497 828 490.5 824 484.2 820.2C477.9 816.4 471.7 813.1 465.4 808.9C459.1 804.7 453 799.9 446.5 795.1C440 790.3 431.6 785.7 426.2 780C420.8 774.3 418 767.2 414 761C410 754.8 405.9 749 402.4 742.9C398.9 736.8 396.1 730.6 393 724.5C389.9 718.4 386.8 712.4 384.1 706.3C381.4 700.2 379.1 694.1 377 688C374.9 681.9 372.8 674.8 371.3 669.7C369.9 664.6 369.4 662.8 368.3 657.6C367.2 652.5 365.4 645.1 364.6 638.8C363.8 632.5 363.5 625.1 363.3 620Z" fill="rgb(239,0,0)"/>
<path d="M395.9 632.5C396.1 627.3 396.9 624.5 397.8 620C398.7 615.5 399.6 611 401.5 605.4C403.4 599.8 406.2 592 409.1 586.6C412 581.2 416 576.3 419.1 572.8C422.2 569.2 424.3 567.4 427.9 565.3C431.4 563.2 436 561.2 440.4 560.3C444.8 559.3 449.8 559.2 454.2 559.6C458.6 560 462.4 561.6 466.7 562.8C471 563.9 476.8 565.5 480 566.5C483.2 567.5 481.8 566.4 485.9 569C490 571.6 498.2 577 504.4 582.3C510.6 587.6 517.2 594.6 522.9 600.8C528.6 607 533.9 613.9 538.8 619.3C543.6 624.7 548 629.5 552 633.1C556 636.7 557.3 636.5 562.6 640.9C567.9 645.3 576.7 653.2 583.8 659.4C590.9 665.6 598.4 671.7 605 677.9C611.6 684.1 617.3 689.8 623.5 696.4C629.7 703 636.3 710.5 642 717.6C647.7 724.7 653.7 731.7 657.9 738.8C662.1 745.9 665.3 753.4 667.1 760C668.9 766.6 668.6 773.8 668.5 778.5C668.4 783.2 667.9 784.7 666.7 788.4C665.5 792.1 664 797.1 661.4 800.9C658.8 804.7 654.8 808.2 651 811.3C647.2 814.4 644.1 817.2 638.5 819.7C632.9 822.2 624.6 824.4 617.6 826C610.6 827.6 603.7 828.6 596.7 829.1C589.7 829.6 582.8 829.6 575.8 829.1C568.8 828.6 562.9 827.9 554.9 826C546.9 824.1 535.7 820.5 527.7 817.6C519.7 814.8 512.9 812 506.7 808.9C500.5 805.8 496.2 802.7 490.4 798.9C484.5 795.1 476.8 790.4 471.6 786.3C466.4 782.1 462.9 778.4 459.1 774C455.3 769.6 452.4 764.6 449 760C445.6 755.4 442.3 751.4 439 746.6C435.7 741.8 432.4 736.2 429 731C425.6 725.8 422.1 721.2 418.9 715.5C415.7 709.8 412.8 703.1 410 697C407.2 690.9 404.6 686.5 402.4 678.9C400.1 671.3 397.6 659 396.5 651.3C395.4 643.6 395.7 637.7 395.9 632.5Z" fill="rgb(128,0,0)"/>
<path d="M720 366.4C713.7 367.5 703.7 369.2 696.7 370.7C689.7 372.1 683.3 372.7 677.9 375.1C672.5 377.5 668.7 382.4 664.1 385.2C659.5 388 654.7 389.1 650.3 392C645.9 394.9 642.4 397.6 637.8 402.7C633.2 407.8 626.1 416.7 622.7 422.8C619.4 428.9 618.7 433.7 617.7 439.1C616.7 444.5 616.5 448.6 616.5 455.4C616.5 462.2 616.5 472.6 617.7 480C618.9 487.4 621.1 493.2 623.9 500C626.7 506.8 631.1 514.2 634.3 520.9C637.5 527.6 639.8 534.9 642.9 540C646 545.1 649.4 548 652.6 551.7C655.9 555.4 659.9 559.6 662.4 562.4C664.9 565.2 664.7 565.6 667.7 568.4C670.7 571.2 676.5 576.3 680.3 579.2C684.1 582.1 687 583.9 690.3 585.9C693.6 587.9 695.8 589.5 700 591.5C704.2 593.5 709.7 595.8 715.8 598C721.9 600.2 730.6 603.1 736.7 605C742.8 606.9 746.7 608.5 752.6 609.5C758.5 610.5 765.6 611.1 772.1 611C778.6 610.9 787.1 609.8 791.6 609C796.1 608.2 794.5 609 799.3 606.5C804.1 604 814.3 598.5 820.2 594C826.1 589.5 831.1 584.3 834.9 579.4C838.7 574.5 840.1 569.3 843.2 564.8C846.3 560.3 850.9 557.8 853.7 552.2C856.5 546.6 858.2 537.9 859.9 531.3C861.6 524.7 863 517.7 864.1 512.5C865.2 507.3 865.7 506.4 866.5 500C867.3 493.6 868.4 481.7 868.8 473.8C869.2 465.9 869.5 460.1 868.8 452.6C868.1 445.1 867 436.3 864.8 428.8C862.6 421.3 858.9 413.6 855.6 407.6C852.3 401.7 849.7 398 845 393.1C840.3 388.2 834.6 382.9 827.2 378.5C819.8 374.1 809.6 369.6 800.8 366.6C792 363.6 785.3 360.9 774.3 360.5C763.3 360.1 743.6 363 734.6 364C725.6 365 726.3 365.3 720 366.4Z" fill="rgb(0,112,255)"/>
<path d="M720 381.4C715.1 381.9 711 381.4 705.5 383.9C700 386.4 691.5 392 686.7 396.4C681.9 400.8 678.9 405.4 676.6 410.2C674.3 415 673.5 419.9 672.9 425.3C672.3 430.7 672.3 437.2 672.9 442.8C673.5 448.4 674.5 452.9 676.6 459.1C678.7 465.3 681.3 473.2 685.4 480C689.5 486.8 695.1 493.9 701.2 500C707.3 506.1 715.8 511.5 722.1 516.7C728.4 521.9 732.9 526.8 738.8 531.3C744.7 535.8 751.3 540.2 757.6 543.9C763.9 547.6 771.2 551.2 776.4 553.3C781.6 555.4 784.4 556 788.9 556.4C793.4 556.8 798.6 556.3 803.5 555.4C808.4 554.5 813.7 553.1 818.2 551.2C822.7 549.3 827.2 546.5 830.7 543.9C834.2 541.3 836.4 539 839 535.5C841.6 532 844.7 528.9 846.3 523C847.9 517.1 847.7 508.2 848.4 500C849.1 491.8 850 481.7 850.3 473.8C850.6 465.9 851.2 458.3 850.3 452.6C849.4 446.9 846.6 443.8 845 439.4C843.4 435 843.5 431 840.5 426.1C837.5 421.2 832.9 416 827.2 410.3C821.5 404.6 812.3 395.9 806.1 391.7C799.9 387.5 795.5 387.3 790.2 385.1C784.9 382.9 783.6 379.2 774.3 378.5C765 377.8 743.6 380.1 734.6 380.6C725.6 381.1 724.9 380.8 720 381.4Z" fill="rgb(0,0,255)"/>
<g fill="none" stroke="#000" stroke-width="1.8" stroke-linejoin="round">
<path d="M104.4 62C107.7 65.3 116.7 73.9 123.9 81.9C131.2 89.9 139.9 100.2 147.9 109.9C155.9 119.6 163.8 129.5 171.8 139.8C179.8 150.1 188.5 161.4 195.8 171.7C203.1 182 209.7 191.3 215.7 201.6C221.7 211.9 227.6 223.5 231.7 233.5C235.8 243.5 238.6 252.8 240.4 261.5C242.2 270.1 242.9 277.4 242.8 285.4C242.7 293.4 241.5 300.8 239.7 309.4C237.8 318 235.7 327.3 231.7 337.3C227.7 347.3 221.7 358.6 215.7 369.2C209.7 379.8 203.1 390.5 195.8 401.1C188.5 411.7 179.8 422.7 171.8 433C163.8 443.3 155.9 453.7 147.9 463C139.9 472.3 131.2 481.1 123.9 488.9C116.7 496.6 107.7 506.1 104.4 509.5L104.4 62Z"/>
<path d="M716.6 9C712.1 13.5 698.8 26.4 689.7 35.9C680.6 45.4 671.1 55.5 661.8 65.8C652.5 76.1 642.4 87.8 633.8 97.8C625.1 107.8 616.2 117.4 609.9 125.7C603.6 134 599.2 141.6 595.9 147.6C592.6 153.6 591 156.9 590 161.6C589 166.3 587.9 170.9 590 175.6C592.1 180.2 597.9 186.2 602.9 189.5C607.9 192.8 613.1 193.2 619.9 195.5C626.7 197.8 635.5 201.8 643.8 203.5C652.1 205.2 662.1 204.7 669.8 205.5C677.4 206.3 683.7 207.3 689.7 208.5C695.7 209.7 700.9 210.3 705.7 212.5C710.5 214.7 713 219.2 718.6 221.4C724.2 223.6 732.8 223.9 739.6 225.4C746.4 226.9 753.8 228.2 759.5 230.4C765.2 232.6 769.3 235.3 774 238.5C778.7 241.7 782.9 246.6 787.5 249.8C792.2 252.9 796.9 254.5 802 257.4C807.1 260.3 812.9 263.8 817.9 266.9C822.9 270 827.2 273.1 831.9 275.9C836.5 278.7 841.1 281.1 845.8 283.9C850.4 286.7 855.8 290.1 859.8 292.8C863.8 295.5 865.6 296.3 869.8 299.8C873.9 303.3 879.7 309.2 884.7 313.8C889.7 318.4 894.7 322.7 899.7 327.7C904.7 332.7 909.6 338.3 914.6 343.7C919.6 349.1 924.5 353.3 929.7 360C934.8 366.7 940.3 375.4 945.6 383.8C950.8 392.2 956.1 401.4 961.4 410.3C966.7 419.1 972 427.9 977.3 436.7C982.6 445.5 989.2 456.6 993.2 463.2C997.2 469.8 998.9 471.1 1001.1 476.4C1003.3 481.7 1005.1 489.2 1006.4 494.9C1007.7 500.7 1007.3 506.4 1009.1 510.8C1010.8 515.2 1015 516.6 1017 521.4C1019 526.3 1019.7 532.4 1021 539.9C1022.3 547.4 1023.8 559.3 1024.9 566.4C1026 573.4 1025.8 575.7 1027.6 582.3C1029.4 588.9 1033.1 599 1035.5 606.1C1038 613.1 1038.8 619.6 1042.1 624.6C1045.5 629.6 1050.7 634.1 1055.4 636.1C1060 638.2 1065.3 637.7 1069.9 636.9C1074.6 636.2 1076.5 635 1083.2 631.6C1089.8 628.2 1098.6 624 1109.6 616.7C1120.6 609.3 1136.1 599 1149.3 587.6C1162.5 576.1 1176.6 560.2 1189 547.9C1201.4 535.5 1217.8 519.2 1223.6 513.5L1223.6 60C1219.2 55.7 1205.7 42.6 1196.9 34.1C1188.2 25.6 1175.3 13.2 1171 9L716.6 9Z"/>
<path d="M718.5 1119.9C724.1 1114.7 740.8 1098.9 752.2 1088.8C763.6 1078.7 775.4 1068.5 787 1059.2C798.6 1049.9 810.3 1041.2 821.9 1033.1C833.5 1025 845.1 1017 856.7 1010.5C868.3 1004 879.9 998.5 891.5 994.1C903.1 989.8 917 986.3 926.3 984.4C935.6 982.5 938.5 982.3 947.2 982.6C955.9 982.9 967.6 983.5 978.6 986.1C989.6 988.7 1001.8 993.1 1013.4 998.3C1025 1003.5 1036.6 1010 1048.2 1017.5C1059.8 1025 1071.4 1034.6 1083 1043.6C1094.6 1052.6 1107.3 1062.7 1117.8 1071.4C1128.2 1080.1 1137.2 1087.7 1145.7 1095.8C1154.2 1103.9 1165.1 1115.9 1169 1119.9L718.5 1119.9Z"/>
<path d="M740 175.6C739.7 168.3 740.6 159.7 743.9 151.7C747.2 143.7 753.2 136 759.9 127.7C766.5 119.4 775.1 109.8 783.8 101.8C792.4 93.8 801.8 86.9 811.8 79.9C821.8 72.9 832.4 65.9 843.7 59.9C855 53.9 868.3 47.8 879.6 43.9C890.9 40 900.9 38.4 911.5 36.8C922.1 35.1 932.8 34 943.4 34C954 34 964.8 35.1 975.4 36.8C986 38.4 996.7 40.4 1007.3 43.9C1017.9 47.4 1028.6 52.2 1039.2 57.9C1049.8 63.6 1060.4 70.2 1071.1 77.9C1081.8 85.6 1092.4 94.2 1103.1 103.8C1113.8 113.4 1125.7 125.1 1135 135.7C1144.3 146.3 1151.6 156.3 1158.9 167.6C1166.2 178.9 1173.2 190.8 1178.9 203.5C1184.6 216.2 1189.6 230.2 1192.8 243.5C1196 256.8 1197.7 270.1 1198 283.4C1198.3 296.7 1197.3 310 1194.8 323.3C1192.3 336.6 1188.1 350.6 1182.8 363.2C1177.5 375.8 1170.2 387.8 1162.9 399.1C1155.6 410.4 1147.7 421 1139 431C1130.3 441 1121 450.6 1111 458.9C1101 467.2 1088.4 476 1079.1 480.8C1069.8 485.6 1061.8 487 1055.2 487.7C1048.6 488.4 1044.5 487.6 1039.2 484.8C1033.9 482 1029.9 477.9 1023.2 470.9C1016.6 463.9 1003.9 449 999.3 443C994.6 437 998 439.7 995.3 435C992.6 430.3 985.6 419.7 983.3 415C981 410.3 983.9 410.3 981.3 407C978.6 403.7 970.4 399.8 967.4 395.1C964.4 390.5 966.7 385.8 963.4 379.1C960.1 372.5 953.4 362.5 947.4 355.2C941.4 347.9 934.1 341.8 927.5 335.2C920.9 328.6 914.1 321.9 907.5 315.3C900.9 308.7 893.6 301 887.6 295.3C881.6 289.6 878.9 286.7 871.6 281.4C864.3 276.1 851 267.4 843.7 263.4C836.4 259.4 832.4 260.1 827.7 257.4C823.1 254.7 819.8 249.7 815.8 247.4C811.8 245.1 808.5 246.2 803.8 243.5C799.1 240.8 792.4 234.5 787.8 231.5C783.1 228.5 780.5 228.8 775.9 225.5C771.2 222.2 764.9 216.5 759.9 211.5C754.9 206.5 749.2 201.6 745.9 195.6C742.6 189.6 740.3 182.9 740 175.6Z"/>
<path d="M211.7 9C217.1 13.4 234.3 28 244.3 35.3C254.3 42.6 262.4 47.6 271.5 53C280.6 58.4 289.6 63.4 298.6 67.9C307.7 72.4 316.7 76.9 325.8 80.1C334.9 83.3 343.5 85.4 353 86.9C362.5 88.4 373.8 89 382.8 89.1C391.9 89.2 398.7 88.8 407.3 87.5C415.9 86.2 425.4 84.2 434.5 81.5C443.6 78.8 452.6 75.3 461.6 71.2C470.7 67.1 479.8 62.3 488.8 57C497.9 51.7 506.8 45.5 515.9 39.4C524.9 33.3 536.1 25.5 543.1 20.4C550.1 15.3 555.5 10.9 558 9L211.7 9Z"/>
<path d="M104.4 667.6C108.7 663.2 121.4 650.1 130 641.2C138.6 632.3 147.3 623.3 156 614.3C164.7 605.3 174.7 595.3 182 587.4C189.3 579.5 194.9 572.5 200 567.1C205.1 561.7 208.3 558.9 212.5 554.7C216.7 550.6 220.8 546.6 224.9 542.2C229.1 537.8 233.2 533.1 237.4 528.5C241.6 523.9 245.8 519.4 249.9 514.8C254.1 510.2 258.2 506.1 262.3 501.1C266.4 496.1 270.6 490.2 274.8 484.8C279 479.4 283.1 474.2 287.3 468.6C291.5 463 296.7 455.8 299.8 451.2C302.9 446.6 302.7 446.2 306 441.2C309.3 436.2 315.9 426.2 319.7 421C323.5 415.8 326 413.5 329 410C332 406.5 334.1 404.6 337.6 400.2C341.1 395.8 345.9 388.9 350.1 383.9C354.3 378.9 358.5 375.1 362.7 370.1C366.9 365.1 371 359 375.2 353.8C379.4 348.6 383.7 344.4 387.7 338.8C391.7 333.2 393.6 326.2 399 320C404.4 313.8 413.4 306.9 420 301.5C426.6 296.1 433.2 292.1 438.8 287.7C444.4 283.3 449.4 277.7 453.8 275.2C458.2 272.7 460.3 275 465.1 272.7C469.9 270.4 477.7 263.6 482.7 261.4C487.7 259.2 490.6 261.6 495.2 259.5C499.8 257.4 505.5 251 510.3 248.9C515.1 246.8 519.4 248.9 524 247C528.6 245.1 533.2 239.5 537.8 237.6C542.4 235.7 546.9 237.5 551.6 235.7C556.3 233.9 561.4 228.8 566 227C570.6 225.2 573.5 225.5 579.2 225.1C584.9 224.7 595.3 224.6 600 224.4C604.7 224.2 604 224.7 607.5 223.8C611 222.9 616.5 220.1 621.3 218.8C626.1 217.6 631.2 216.6 636.4 216.3C641.6 216 646.9 216.3 652.7 216.9C658.6 217.5 665.2 218.7 671.5 220.1C677.8 221.5 684 223 690.3 225.1C696.6 227.2 702.8 230.1 709.1 232.6C715.4 235.1 721.6 237.6 727.9 240.1C734.2 242.6 741.5 245.3 746.7 247.6C751.9 249.9 755.3 252 759.2 253.9C763.1 255.8 764.9 255.7 770 258.9C775.1 262.1 783.4 268.2 790 272.9C796.6 277.6 803.6 282.2 809.9 286.9C816.2 291.5 822.1 296.1 827.9 300.8C833.7 305.5 839.5 310.3 844.8 314.8C850.1 319.3 854.8 323.1 859.8 327.7C864.8 332.3 869.7 337.5 874.7 342.7C879.7 347.9 881.4 350 889.7 358.6C898 367.2 914.2 382.7 924.4 394.4C934.6 406.1 943.3 418.6 950.8 428.8C958.3 439 963.6 446.9 969.4 455.3C975.1 463.7 981.3 471.6 985.3 479.1C989.3 486.6 990.6 492.7 993.2 500.2C995.8 507.7 998.7 516.1 1001.1 524.1C1003.5 532.1 1005.9 540.4 1007.7 547.9C1009.5 555.4 1010.8 562 1011.7 569C1012.6 576 1013.2 584 1013 590.2C1012.8 596.4 1011.5 601.2 1010.4 606.1C1009.3 611 1007.5 610.8 1006.4 619.3C1005.3 627.8 1005.6 647.9 1003.8 656.8C1002 665.7 997.6 667.3 995.8 672.6C994 677.9 995.2 683.6 993.2 688.5C991.2 693.4 985.8 697.3 983.9 701.7C982 706.1 984.1 710.4 982.1 715C980.1 719.6 974.1 724.6 972 729.5C969.9 734.4 971.8 739 969.4 744.1C967 749.2 959.8 755.1 957.5 760C955.2 764.9 958.5 767.9 955.6 773.2C952.7 778.5 945.5 785.5 940.3 791.7C935.1 797.9 930.1 804 924.4 810.2C918.7 816.4 911.6 823 905.9 828.8C900.2 834.6 895.1 840.6 890 845C884.9 849.4 880.8 851.5 875.5 855.4C870.2 859.3 863.8 864.1 858 868.2C852.2 872.3 847.2 874.6 840.6 879.9C834 885.2 827.2 893 818.4 900C809.5 907 797 915.5 787.5 922C778 928.5 769.9 933.5 761.1 939.2C752.3 944.9 743.4 950 734.6 956.4C725.8 962.8 717 970.1 708.2 977.6C699.4 985.1 690.5 993 681.7 1001.4C672.9 1009.8 664 1019.1 655.2 1027.9C646.4 1036.7 637.6 1045.6 628.8 1054.4C620 1063.2 611.1 1072.4 602.3 1080.8C593.5 1089.2 582.8 1098.1 575.8 1104.6C568.8 1111.1 562.6 1117.4 560 1119.9L208.5 1119.9C203.7 1114.7 188.7 1098.4 179.4 1088.8C170.1 1079.2 161.7 1070.7 152.9 1062.3C144.1 1053.9 134.6 1046.2 126.5 1038.5C118.4 1030.8 108.1 1019.8 104.4 1016L104.4 667.6Z"/>
<path d="M1223.6 670C1219.6 675 1207.1 689.9 1199.8 699.9C1192.5 709.9 1185.9 719.8 1179.8 729.8C1173.7 739.8 1168.2 749.2 1163.2 759.7C1158.2 770.2 1153.2 783 1149.9 793C1146.6 803 1144.5 811.9 1143.2 819.6C1141.9 827.4 1141.9 831.8 1142.2 839.5C1142.5 847.2 1143.4 857.2 1144.9 866.1C1146.5 875 1148.5 883.3 1151.5 892.7C1154.5 902.1 1158.5 912.6 1163.2 922.6C1167.9 932.6 1173.7 942.6 1179.8 952.6C1185.9 962.6 1192.5 972.5 1199.8 982.5C1207.1 992.5 1219.6 1007.4 1223.6 1012.4L1223.6 670Z"/>
<path d="M422.8 320C418.3 324.8 413.1 330.8 409.1 335C405.1 339.2 401.5 342 399 345.1C396.5 348.2 395.4 351.3 394 353.8C392.6 356.3 393.4 355.7 390.3 360.1C387.2 364.5 378.8 376 375.2 380.2C371.6 384.4 371 381.9 368.9 385.2C366.8 388.5 365.2 395.8 362.7 400.2C360.2 404.6 355.8 409 353.9 411.5C352 414 352.9 412.2 351.4 415.3C349.9 418.4 347.4 426.1 345.1 430.3C342.8 434.5 339.5 436.5 337.6 440.3C335.7 444.1 335.7 449.1 333.8 452.9C331.9 456.7 328.3 460 326.3 462.9C324.3 465.8 323.1 466.9 321.9 470C320.6 473.1 319.7 477.1 318.8 481.3C317.9 485.5 317.1 490.3 316.3 495.1C315.5 499.9 314.9 506.4 313.8 510.1C312.8 513.9 311.5 514.7 310 517.6C308.5 520.5 306.4 524.6 305 527.7C303.6 530.8 302.2 533.5 301.3 536.4C300.4 539.3 300.9 538.4 299.5 545.2C298.1 552 295.6 567.3 293.2 577C290.8 586.7 290 591 285.2 603.4C280.4 615.8 270.3 639.1 264.1 651.5C257.9 663.9 253.9 669.1 248.2 677.9C242.5 686.7 235.9 695.6 229.7 704.4C223.5 713.2 216.2 722 211.1 730.8C206 739.6 202.2 748.8 199 757C195.8 765.2 194.1 773.7 191.9 780C189.7 786.3 187.7 788.8 185.9 795C184.2 801.2 182.4 809.9 181.4 817.4C180.4 824.9 180 832.4 179.9 839.9C179.8 847.4 179.9 854.8 180.7 862.3C181.4 869.8 182.5 877.2 184.4 884.7C186.3 892.2 188.7 899.7 191.9 907.2C195.2 914.7 200.2 923.4 203.9 929.6C207.6 935.8 210.8 939.5 214.3 944.6C217.8 949.7 217.4 952.3 224.8 960C232.2 967.7 248.7 982.1 258.8 990.8C268.9 999.5 276.4 1005.8 285.2 1012C294 1018.2 302.9 1023.5 311.7 1027.9C320.5 1032.3 329.4 1036 338.2 1038.5C347 1041 356.7 1042.2 364.6 1043.2C372.5 1044.2 379.2 1044.3 385.8 1044.3C392.4 1044.3 396.8 1044.4 404.3 1043.2C411.8 1042 422 1039.8 430.8 1037.2C439.6 1034.7 448.7 1031.1 457.2 1027.9C465.7 1024.7 472.5 1023 481.8 1018.2C491.1 1013.5 503.4 1005.3 513.1 999.4C522.9 993.5 531.6 988 540.3 982.6C549 977.2 556.2 971.9 565.3 967C574.3 962.1 582.8 958.1 594.6 953.4C606.5 948.7 625.3 942.4 636.4 938.8C647.5 935.1 653.6 933.8 661.4 931.5C669.2 929.2 678.3 926.4 683.4 925.2C688.5 924 688.8 925 691.7 924.1C694.7 923.2 696.4 921.7 701.1 919.6C705.8 917.5 713.5 913.5 720 911.6C726.5 909.8 734.9 909.6 740 908.5C745.1 907.4 747 905.8 750.5 904.8C754 903.8 758.5 903 761.1 902.2C763.7 901.4 763.5 901.6 766.1 900C768.7 898.4 772.4 894.7 776.5 892.7C780.6 890.7 785.8 890.3 790.5 888C795.2 885.7 799.9 881.2 804.5 878.7C809.1 876.2 813.8 875.6 818.4 872.9C823 870.2 827.7 865.1 832.4 862.4C837.1 859.7 841.2 860.1 846.4 856.6C851.6 853.1 858.9 845.6 863.8 841.5C868.6 837.4 872 834.5 875.5 832.2C879 829.9 882.4 829.1 884.8 827.5C887.2 825.9 886.9 826.6 890 822.8C893.1 819 897.9 811.8 903.2 804.9C908.5 798 915.5 789.5 921.7 781.1C927.9 772.7 934.1 764 940.3 754.7C946.5 745.5 953.1 735.3 958.8 725.6C964.5 715.9 970.3 705.7 974.7 696.4C979.1 687.1 982.7 678.4 985.3 670C987.9 661.6 989.2 655.5 990.5 646.2C991.8 636.9 992.5 622.9 993.2 614C993.9 605.1 994.5 600.4 994.5 592.9C994.5 585.4 994.3 577.4 993.2 569C992.1 560.6 990.5 551 987.9 542.6C985.2 534.2 981.7 526.3 977.3 518.8C972.9 511.3 966.7 503.8 961.4 497.6C956.1 491.4 950.9 485.8 945.6 481.7C940.3 477.6 934.6 474.6 929.7 473.2C924.8 471.8 921 470.9 916.4 473C911.8 475.1 906.8 478.1 901.9 485.7C897 493.3 891.9 508.4 887.3 518.8C882.7 529.2 878.5 539.1 874.1 547.9C869.7 556.7 866.4 565.1 860.9 571.7C855.4 578.3 846.1 582.9 841.1 587.7C836.1 592.5 835.9 595.4 830.7 600.3C825.5 605.2 814.9 613.4 809.8 617C804.7 620.6 803.4 620 800 621.7C796.6 623.4 793.5 626.1 789.7 627.1C785.9 628.1 782.4 627.4 777 627.5C771.6 627.6 764 627.6 757.5 627.5C751 627.4 744.5 627.5 738 627.1C731.5 626.7 725 625.8 718.5 625.1C712 624.4 705.5 623.6 699 622.7C692.5 621.8 685 621.8 679.5 619.7C674 617.6 669.6 612.3 665.8 610C662 607.7 659.4 607.4 656.9 606C654.4 604.6 653.4 603.6 651 601.8C648.6 600 645.5 597.6 642.7 595.1C639.9 592.6 636.9 589.5 634.3 586.7C631.6 583.9 629 581.2 626.8 578.4C624.6 575.6 622 572.2 620.9 570C619.8 567.8 620.8 566.7 620.1 565C619.4 563.3 618.8 562.9 616.8 560C614.8 557.1 609.5 551.1 607.8 547.8C606.1 544.5 607.2 543.4 606.8 540C606.3 536.6 606.1 533.9 605.1 527.2C604.1 520.5 601.7 507.9 600.9 500C600.1 492.1 600.4 487.4 600.2 480C600 472.6 599.5 462.4 599.5 455.4C599.5 448.4 598.4 444.5 600.2 437.8C602 431.1 606.5 421.5 610.2 415.2C614 408.9 618.5 404.8 622.7 400.2C626.9 395.6 630.9 391.7 635.3 387.7C639.7 383.7 644.5 379.9 649.1 376.4C653.7 372.8 658 369.5 662.8 366.4C667.6 363.3 673.3 360 677.9 357.6C682.5 355.2 685.6 354 690.4 351.9C695.2 349.8 702.5 346.7 706.7 345C710.9 343.3 711.5 343.3 715.4 341.7C719.3 340.1 725.4 337.7 730.4 335.4C735.4 333.1 741 331.4 745.4 327.9C749.8 324.3 754.8 317.7 756.7 314.1C758.6 310.5 757.1 309.2 756.7 306.5C756.3 303.8 755.9 301.4 754.2 297.8C752.5 294.2 749.8 289.2 746.7 285.2C743.6 281.2 739.6 277.6 735.4 274C731.2 270.4 727 267.2 721.6 263.9C716.2 260.5 709.1 257 702.8 253.9C696.5 250.8 690.3 247.6 684 245.1C677.7 242.6 670.8 240.4 665.2 238.9C659.6 237.4 655.2 236.7 650.2 236.1C645.2 235.5 639.9 235.2 635.1 235.3C630.3 235.4 625.9 235.9 621.3 236.4C616.7 236.9 612.7 237.6 607.5 238.2C602.3 238.8 594.5 239.6 590 240.1C585.5 240.6 584.7 240.7 580.4 241.4C576.1 242.1 571.3 242.6 564.2 244.5C557.1 246.4 546.8 249.4 537.8 252.6C528.8 255.8 518.2 260.5 510.3 263.9C502.4 267.2 496.5 269.8 490.2 272.7C483.9 275.6 478.7 278.1 472.6 281.5C466.5 284.9 459.9 288.6 453.8 292.8C447.8 297 441.5 302 436.3 306.5C431.1 311 427.3 315.2 422.8 320Z"/>
<path d="M445 319C441.3 323.1 435.9 330.9 431.6 336.3C427.3 341.7 423.3 346.3 419.1 351.3C414.9 356.3 410.7 361.4 406.5 366.4C402.3 371.4 398.2 376.2 394 381.4C389.8 386.6 385.5 392.3 381.5 397.7C377.5 403.1 373.3 409.2 370.2 414C367.1 418.8 366 421.3 362.7 426.5C359.4 431.7 354.5 438.1 350.1 445.4C345.7 452.6 339.7 463.2 336.4 470C333.1 476.8 332 480.7 330.1 486.3C328.2 491.9 326.4 497.8 325.1 503.8C323.9 509.9 324.1 517.6 322.6 522.6C321.1 527.6 318 529.7 316.3 533.9C314.6 538.1 313.4 542.7 312.5 547.7C311.6 552.7 311 558.1 310.7 564C310.4 569.9 310.5 578 310.7 582.8C310.9 587.6 311 589.5 311.9 592.8C312.8 596.1 315.5 598.3 316.3 602.8C317.1 607.3 316.9 614 316.9 620C316.9 626 316.3 632.5 316.3 638.8C316.3 645.1 315.8 651.5 316.7 657.6C317.6 663.7 320.5 669.8 321.9 675.2C323.3 680.6 324 684.8 325.1 690.2C326.2 695.6 327.4 701 328.8 707.7C330.2 714.4 332.1 723.2 333.8 730.3C335.5 737.4 337 742.9 338.9 750.4C340.8 757.9 342.7 767.8 345 775C347.3 782.2 349.6 787.3 352.5 793.8C355.4 800.3 359.1 807.8 362.6 813.9C366.2 820 370.1 825.4 373.8 830.2C377.6 835 381.1 838.9 385.1 842.7C389.1 846.5 393.1 849.4 397.7 852.8C402.3 856.1 407.7 859.9 412.7 862.8C417.7 865.7 422.7 867.8 427.7 870.3C432.7 872.8 437.6 875.5 442.8 877.8C448 880.1 453.2 882 459.1 884.1C465 886.2 471.6 888.6 477.9 890.4C484.2 892.2 489.7 893.4 496.7 894.8C503.7 896.1 511 897 520 898.5C529 900 543.2 902 550.7 903.7C558.2 905.4 553.4 907.6 565.3 908.5C577.1 909.4 609.9 908.1 621.8 909.1C633.6 910.1 631.9 913.7 636.4 914.7C640.9 915.8 641.9 915.7 648.9 915.4C655.9 915.1 668.8 914.7 678.2 912.7C687.6 910.7 698.3 905.2 705.3 903.3C712.2 901.4 714.1 902.4 719.9 901.2C725.7 900 735.4 897.3 740 895.9C744.6 894.5 743.4 894.4 747.5 892.7C751.6 891 758.1 888.8 764.9 885.7C771.7 882.6 781.4 877.5 788.2 874C795 870.5 799.8 868 805.6 864.7C811.4 861.4 817.3 858 823.1 854.3C828.9 850.6 834.8 846.7 840.6 842.6C846.4 838.5 852.2 834.2 858 829.8C863.8 825.3 870.2 820.3 875.5 815.9C880.8 811.5 885.8 806.7 890 803.1C894.2 799.5 896.2 799.8 900.6 794.4C905 789 911.1 778.9 916.4 770.5C921.7 762.1 927.4 752.9 932.3 744.1C937.2 735.3 941.6 726 945.6 717.6C949.6 709.2 953 702.6 956.1 693.8C959.2 685 962.1 674 964.1 664.7C966.1 655.4 967.6 646.7 968 638.2C968.4 629.8 967.6 621.6 966.7 614C965.8 606.4 964.6 599.2 962.8 592.8C961 586.4 959.2 580.7 956.1 575.6C953 570.5 948.6 565.5 944.2 562.4C939.8 559.3 934.3 557.9 929.7 557.1C925.1 556.4 920.8 557 916.4 557.9C912 558.8 908.5 559.7 903.2 562.4C897.9 565.1 890.9 569.7 884.7 574.3C878.5 578.9 871.7 584.5 866.2 590.2C860.7 595.9 857.5 603.1 851.6 608.6C845.7 614.1 839.3 618.7 830.7 623.3C822.1 627.9 806.7 633.6 800 636.3C793.3 639 794.4 639 790.6 639.7C786.8 640.4 782.5 640.5 777 640.7C771.5 640.9 764 640.9 757.5 640.7C751 640.5 744.5 640.3 738 639.7C731.5 639.1 725 638.2 718.5 637.3C712 636.4 705.8 635.7 699 634.4C692.2 633.1 684 632 677.5 629.5C671 627 664.4 622.1 660 619.7C655.6 617.3 653.9 617.1 651 615.2C648.1 613.3 645.5 610.6 642.7 608.5C639.9 606.4 637.2 605 634.3 602.6C631.4 600.2 627.9 597.2 625.1 594.3C622.3 591.4 619.8 588 617.6 585.1C615.4 582.2 613.6 579.6 611.8 576.7C610 573.8 608.2 570.3 606.7 567.5C605.2 564.7 604.6 564.9 602.6 560C600.6 555.1 596.9 544.7 595 538C593.1 531.3 592.6 526.3 591.5 520C590.4 513.7 589.1 506.7 588.5 500C587.9 493.3 587.9 485.4 587.6 480C587.4 474.6 587.1 473 587 467.9C586.9 462.8 586.7 455.4 587 449.1C587.3 442.8 587.3 436.6 588.9 430.3C590.5 424 593.3 417.8 596.4 411.5C599.5 405.2 603.7 398.8 607.7 392.7C611.7 386.6 616 380.5 620.2 375.1C624.4 369.7 628.4 365.1 632.8 360.1C637.2 355.1 641.7 350.4 646.5 345C651.3 339.6 657.6 333 661.4 327.9C665.1 322.8 667.5 318.7 669 314.1C670.5 309.5 670.8 305.1 670.2 300.3C669.6 295.5 668.5 289.9 665.2 285.2C661.9 280.5 655 275.1 650.2 272.1C645.4 269.1 641 268.5 636.4 267.1C631.8 265.7 627.6 264.6 622.6 263.9C617.6 263.2 611.7 262.9 606.3 262.7C600.9 262.5 594.3 262.6 590 262.7C585.7 262.8 584.7 262.8 580.4 263.3C576.1 263.8 571.1 264.2 564.2 265.8C557.3 267.4 546.8 270.1 539.1 272.7C531.4 275.3 525.1 278.6 517.8 281.5C510.5 284.4 502.7 287.2 495.2 290.3C487.7 293.4 479.5 296.8 472.6 300.3C465.7 303.9 458.4 308.5 453.8 311.6C449.2 314.7 448.7 314.9 445 319Z"/>
<path d="M476.4 327.9C470 332.1 463.1 338.2 456.7 344C450.3 349.8 444.2 356.2 437.9 362.6C431.6 369.1 425.4 375.6 419.1 382.7C412.8 389.8 406.6 397.5 400.3 405.2C394 412.9 387.1 421.4 381.5 429.1C375.9 436.8 371 444.8 366.4 451.6C361.8 458.4 357.2 464.2 353.9 470C350.6 475.8 348.7 480.7 346.4 486.3C344.1 491.9 342 498.2 340.1 503.8C338.2 509.4 337 514.5 335.1 520.1C333.2 525.8 330.5 531.9 328.8 537.7C327.1 543.6 325.8 548.7 325.1 555.2C324.4 561.7 324.1 569.8 324.4 576.5C324.7 583.2 326.4 590.2 327 595.4C327.6 600.6 328 603.8 328.2 607.9C328.4 612 328.1 614.9 328.2 620C328.3 625.1 328.2 632.5 328.8 638.8C329.4 645.1 330.5 652 332 657.6C333.5 663.2 335.9 668 337.6 672.6C339.3 677.2 340.5 681.4 342 685.2C343.5 689 344.9 692.1 346.4 695.2C347.9 698.3 349.6 700.5 350.8 704C352.1 707.5 352.1 712.3 353.9 716.5C355.7 720.7 359.3 724.5 361.4 729.1C363.5 733.7 364.1 739.7 366.4 744.1C368.7 748.5 371.9 750.9 375.2 755.4C378.5 759.9 383.9 767.4 386.4 771.3C388.9 775.2 389.1 776.3 390.1 778.8C391.1 781.3 390.5 783.2 392.6 786.3C394.7 789.4 398.9 793.6 402.7 797.6C406.5 801.6 411 806.1 415.2 810.1C419.4 814.1 423.5 817.5 427.7 821.4C431.9 825.3 436.1 830.5 440.3 833.3C444.5 836.1 448.6 835.9 452.8 838.3C457 840.7 460.6 844.2 465.4 847.7C470.2 851.2 476.7 856.4 481.7 859C486.7 861.6 490.8 861.3 495.4 863.4C500 865.5 505.1 869.7 509.2 871.6C513.3 873.5 514.8 872.6 520 874.7C525.2 876.9 532.8 881.3 540.3 884.5C547.8 887.7 555.9 891.6 565.3 893.9C574.7 896.1 587.3 897.1 596.7 898C606.1 898.9 613.1 898.6 621.8 899.1C630.5 899.6 640.9 900.8 648.9 900.8C656.9 900.8 662.8 900.2 669.8 899.1C676.8 898 683.7 895.6 690.7 893.9C697.7 892.1 705.1 890.5 711.6 888.6C718.1 886.7 724 884.1 730 882.2C736 880.4 741.7 879.6 747.5 877.5C753.3 875.4 758.1 873.3 764.9 869.4C771.7 865.5 781.4 858.8 788.2 854.3C795 849.8 799.8 846.5 805.6 842.6C811.4 838.7 817.3 835.1 823.1 831C828.9 826.9 834.8 822.7 840.6 818.2C846.4 813.7 852.2 809.4 858 804.2C863.8 799 870.2 792.2 875.5 786.8C880.8 781.4 886.3 775.6 890 771.6C893.7 767.6 894.4 768.5 897.9 762.6C901.4 756.7 907.7 744.5 911.2 736.1C914.7 727.7 917.1 719.3 919.1 712.3C921.1 705.2 922.2 699.5 923.1 693.8C924 688.1 924.6 683.6 924.4 677.9C924.2 672.2 923.2 664.7 921.7 659.4C920.2 654.1 918.4 649.8 915.1 646.2C911.8 642.6 906.5 639.4 901.9 637.7C897.3 636 892.4 635.8 887.3 636.1C882.2 636.4 878.5 637.9 871.5 639.6C864.5 641.3 851.8 644.6 845 646.2C838.2 647.8 838.2 647.6 830.7 649.4C823.2 651.2 806.7 655.4 800 656.8C793.3 658.2 794.4 657.5 790.6 657.8C786.8 658 782.5 658.3 777 658.3C771.5 658.3 764 658.2 757.5 657.8C751 657.4 744.5 656.6 738 655.8C731.5 655 725 654 718.5 652.9C712 651.8 705.8 650.6 699 649C692.2 647.4 684 645.5 677.5 643.1C671 640.7 665.1 637.7 660 634.4C654.9 631.1 651.2 626.7 646.9 623.5C642.6 620.3 638.1 618 634.3 615.2C630.5 612.4 627.5 609.7 624.3 606.8C621.1 603.9 618 600.7 615.1 597.6C612.2 594.5 609.4 591.6 606.7 588.4C604.1 585.2 601.4 581.7 599.2 578.4C597 575.1 595.1 571.5 593.4 568.4C591.7 565.3 590.6 564.7 589.2 560C587.8 555.3 586.8 546.6 585.1 540.2C583.4 533.8 580.8 527.9 578.9 521.4C577 514.9 575.2 508.2 573.8 501.3C572.4 494.4 571.4 487.6 570.7 480C570 472.4 569.7 462.6 569.5 455.4C569.3 448.1 569.2 442.8 569.5 436.5C569.8 430.2 570.1 424 571.3 417.7C572.4 411.4 574.5 405.2 576.4 398.9C578.3 392.6 580.5 386.4 582.6 380.1C584.7 373.8 587.4 367.6 588.9 361.3C590.4 355 591.3 348.1 591.4 342.5C591.5 336.9 591 332.6 589.2 327.9C587.4 323.2 584.3 317.5 580.4 314.1C576.5 310.8 570.8 309.1 566 307.8C561.2 306.5 557.1 306.3 551.6 306.3C546.1 306.3 539.1 306.9 532.8 307.8C526.5 308.7 520.3 309.8 514 311.6C507.7 313.4 501.5 315.8 495.2 318.5C488.9 321.2 482.8 323.6 476.4 327.9Z"/>
<path d="M520 860.9C514.1 859.4 513.1 860.4 509.2 859C505.3 857.6 501.9 855.7 496.7 852.8C491.5 849.9 484.2 845.7 477.9 841.5C471.6 837.3 465.4 832.1 459.1 827.7C452.8 823.3 446 819.8 440.3 815.2C434.6 810.6 430 804.9 425.2 800.1C420.4 795.3 415.2 789.6 411.4 786.3C407.6 782.9 405.6 784.2 402.4 780C399.2 775.8 395.4 767.2 392 761C388.6 754.8 385.6 749.4 382.3 742.9C379.1 736.4 375.6 728.7 372.5 722C369.4 715.3 366.6 709.4 364 702.7C361.4 696 359.1 688.7 357 682C354.9 675.3 353.3 669.6 351.2 662.4C349.1 655.2 345.8 645.9 344.5 638.8C343.2 631.7 343.5 626.2 343.2 620C342.9 613.8 342.9 607.8 342.6 601.6C342.3 595.4 341.5 588.4 341.4 582.8C341.3 577.2 341.6 573 342 567.8C342.4 562.6 343 556.9 343.9 551.5C344.8 546.1 345.9 540.9 347.6 535.2C349.3 529.6 351.8 523.2 353.9 517.6C356 512 357.9 506.5 360.2 501.3C362.5 496.1 364.8 491.5 367.7 486.3C370.6 481.1 373.3 476.6 377.7 470C382.1 463.4 388.1 453.9 394 446.6C399.9 439.4 406.5 432.8 412.8 426.5C419.1 420.2 425.3 415.1 431.6 409C437.9 402.9 444.3 395 450.4 390.2C456.5 385.4 462.5 382.7 468 380.2C473.5 377.7 478.4 376.1 483.2 375.3C487.9 374.5 492.1 374.6 496.5 375.3C500.9 376.1 505.3 377.1 509.7 379.8C514.1 382.5 519.4 387.1 522.9 391.7C526.4 396.3 528.7 401.9 530.9 407.6C533.1 413.3 534.4 417.4 536.2 426.1C538 434.8 540.4 452.3 541.9 460C543.4 467.7 543.8 467.4 545.2 472.5C546.6 477.6 548.5 485 550.2 490.9C551.9 496.8 553.2 501.6 555.2 507.6C557.2 513.6 559.4 520.1 561.9 526.9C564.4 533.7 567.8 541.4 570.3 548.6C572.8 555.8 574.5 564.6 576.7 570C578.9 575.4 580.9 577.3 583.4 580.9C585.9 584.5 589 588.3 591.8 591.8C594.6 595.3 597 598.5 600.1 601.8C603.2 605.1 606.8 608.5 610.1 611.8C613.5 615.1 616.6 618.4 620.2 621.8C623.8 625.1 628 628.8 631.9 631.9C635.8 635 639.6 637.6 643.6 640.2C647.6 642.9 651.9 645.6 656.1 647.8C660.3 650 665.5 651.8 668.6 653.6C671.7 655.4 671.2 656.7 674.6 658.7C678 660.7 683.5 663.3 689.2 665.6C694.9 667.9 702.2 670.5 708.7 672.4C715.2 674.3 721.7 675.7 728.2 677.3C734.7 678.9 741.2 680.6 747.7 682.1C754.2 683.6 760.7 684.9 767.2 686C773.7 687.1 781.2 688.2 786.7 689C792.2 689.8 794.4 689.7 800 690.9C805.6 692.1 814 694.3 820.2 696.4C826.4 698.5 832.7 701.4 837 703.7C841.3 706 843.7 707.5 846 710C848.3 712.5 849.6 715.5 851 719C852.4 722.5 853.9 726.5 854.3 731C854.7 735.5 854.4 741.2 853.5 746C852.6 750.8 850.5 755.7 848.7 760C846.9 764.3 845.6 767.1 842.9 771.6C840.2 776.1 836.5 781.8 832.4 786.8C828.3 791.8 823.4 797 818.4 801.9C813.4 806.8 807.8 811.2 802.2 815.9C796.6 820.5 790.9 825.1 784.7 829.8C778.5 834.4 771.1 839.7 764.9 843.8C758.7 847.9 753.3 851.2 747.5 854.3C741.7 857.4 737.7 859.5 730 862.4C722.3 865.3 711.1 868.9 701.1 871.9C691.1 874.9 678.5 878.4 669.8 880.3C661.1 882.2 659.3 883 648.9 883.4C638.5 883.8 619.3 883.3 607.1 882.4C594.9 881.5 586.2 880.7 575.8 878.2C565.4 875.8 553.8 870.6 544.5 867.7C535.2 864.8 525.9 862.4 520 860.9Z"/>
<path d="M363.3 620C363.1 614.9 363.3 613 363.3 607.9C363.3 602.8 363 595 363.3 589.1C363.6 583.2 364.3 578.4 365.2 572.8C366.1 567.1 367.2 560.9 368.9 555.2C370.6 549.6 372.5 544.8 375.2 538.9C377.9 533 381.4 526.4 385.2 520.1C389 513.8 393.2 506.9 397.8 501.3C402.4 495.7 408.2 490.5 412.8 486.3C417.4 482.1 421.2 479 425.4 476.3C429.6 473.6 433.1 471.8 437.9 470C442.7 468.2 449.2 465.9 454.2 465.4C459.2 464.8 463.6 465.8 468 466.7C472.4 467.6 475.9 468.6 480.6 471.1C485.4 473.6 491.7 476.9 496.5 481.7C501.3 486.5 505.1 493.4 509.3 500.1C513.5 506.8 517.9 515.1 521.8 521.8C525.7 528.5 529.2 533.8 532.7 540.2C536.2 546.6 539.7 554.5 542.7 560C545.8 565.5 548.1 569 551 573.5C553.9 578 557.1 582.8 560 586.7C562.9 590.6 565.6 593.4 568.4 596.8C571.2 600.1 573.9 603.5 576.7 606.8C579.5 610.1 582.3 613.6 585.1 616.8C587.9 620 590.6 622.9 593.4 626C596.2 629.1 598.7 632.1 601.8 635.2C604.9 638.3 608.3 641.3 611.8 644.4C615.3 647.5 619 650.6 622.7 653.6C626.4 656.6 629.6 659.2 634 662.5C638.4 665.8 644.6 670.6 648.9 673.4C653.2 676.2 655.7 676.9 660 679.2C664.3 681.5 669.7 684.4 674.6 687C679.5 689.6 684 691.6 689.2 694.8C694.4 698 700.6 703 706 706.3C711.4 709.6 716.8 712 721.5 714.7C726.2 717.4 730.1 720 734 722.5C737.9 725 741.8 727.5 744.7 729.8C747.6 732.1 749.5 734.2 751.5 736.5C753.5 738.8 754.5 739.9 756.4 743.8C758.2 747.7 761.3 755.4 762.6 760C763.9 764.6 764.5 767.3 764.3 771.6C764.1 775.9 763 781.1 761.4 785.6C759.8 790.1 757.1 794.1 754.4 798.4C751.7 802.7 749.2 806.7 745.1 811.2C741 815.7 737.3 820 730 825.2C722.7 830.5 711.1 837.5 701.1 842.7C691.1 847.9 680.2 853.2 669.8 856.3C659.4 859.4 649 860.6 638.5 861.5C628 862.4 617.6 862.2 607.1 861.5C596.6 860.8 586.2 859.4 575.8 857.3C565.4 855.2 553.8 851.5 544.5 848.9C535.2 846.3 526.9 844.4 520 841.5C513.1 838.6 509 835 503 831.5C497 828 490.5 824 484.2 820.2C477.9 816.4 471.7 813.1 465.4 808.9C459.1 804.7 453 799.9 446.5 795.1C440 790.3 431.6 785.7 426.2 780C420.8 774.3 418 767.2 414 761C410 754.8 405.9 749 402.4 742.9C398.9 736.8 396.1 730.6 393 724.5C389.9 718.4 386.8 712.4 384.1 706.3C381.4 700.2 379.1 694.1 377 688C374.9 681.9 372.8 674.8 371.3 669.7C369.9 664.6 369.4 662.8 368.3 657.6C367.2 652.5 365.4 645.1 364.6 638.8C363.8 632.5 363.5 625.1 363.3 620Z"/>
<path d="M395.9 632.5C396.1 627.3 396.9 624.5 397.8 620C398.7 615.5 399.6 611 401.5 605.4C403.4 599.8 406.2 592 409.1 586.6C412 581.2 416 576.3 419.1 572.8C422.2 569.2 424.3 567.4 427.9 565.3C431.4 563.2 436 561.2 440.4 560.3C444.8 559.3 449.8 559.2 454.2 559.6C458.6 560 462.4 561.6 466.7 562.8C471 563.9 476.8 565.5 480 566.5C483.2 567.5 481.8 566.4 485.9 569C490 571.6 498.2 577 504.4 582.3C510.6 587.6 517.2 594.6 522.9 600.8C528.6 607 533.9 613.9 538.8 619.3C543.6 624.7 548 629.5 552 633.1C556 636.7 557.3 636.5 562.6 640.9C567.9 645.3 576.7 653.2 583.8 659.4C590.9 665.6 598.4 671.7 605 677.9C611.6 684.1 617.3 689.8 623.5 696.4C629.7 703 636.3 710.5 642 717.6C647.7 724.7 653.7 731.7 657.9 738.8C662.1 745.9 665.3 753.4 667.1 760C668.9 766.6 668.6 773.8 668.5 778.5C668.4 783.2 667.9 784.7 666.7 788.4C665.5 792.1 664 797.1 661.4 800.9C658.8 804.7 654.8 808.2 651 811.3C647.2 814.4 644.1 817.2 638.5 819.7C632.9 822.2 624.6 824.4 617.6 826C610.6 827.6 603.7 828.6 596.7 829.1C589.7 829.6 582.8 829.6 575.8 829.1C568.8 828.6 562.9 827.9 554.9 826C546.9 824.1 535.7 820.5 527.7 817.6C519.7 814.8 512.9 812 506.7 808.9C500.5 805.8 496.2 802.7 490.4 798.9C484.5 795.1 476.8 790.4 471.6 786.3C466.4 782.1 462.9 778.4 459.1 774C455.3 769.6 452.4 764.6 449 760C445.6 755.4 442.3 751.4 439 746.6C435.7 741.8 432.4 736.2 429 731C425.6 725.8 422.1 721.2 418.9 715.5C415.7 709.8 412.8 703.1 410 697C407.2 690.9 404.6 686.5 402.4 678.9C400.1 671.3 397.6 659 396.5 651.3C395.4 643.6 395.7 637.7 395.9 632.5Z"/>
<path d="M720 366.4C713.7 367.5 703.7 369.2 696.7 370.7C689.7 372.1 683.3 372.7 677.9 375.1C672.5 377.5 668.7 382.4 664.1 385.2C659.5 388 654.7 389.1 650.3 392C645.9 394.9 642.4 397.6 637.8 402.7C633.2 407.8 626.1 416.7 622.7 422.8C619.4 428.9 618.7 433.7 617.7 439.1C616.7 444.5 616.5 448.6 616.5 455.4C616.5 462.2 616.5 472.6 617.7 480C618.9 487.4 621.1 493.2 623.9 500C626.7 506.8 631.1 514.2 634.3 520.9C637.5 527.6 639.8 534.9 642.9 540C646 545.1 649.4 548 652.6 551.7C655.9 555.4 659.9 559.6 662.4 562.4C664.9 565.2 664.7 565.6 667.7 568.4C670.7 571.2 676.5 576.3 680.3 579.2C684.1 582.1 687 583.9 690.3 585.9C693.6 587.9 695.8 589.5 700 591.5C704.2 593.5 709.7 595.8 715.8 598C721.9 600.2 730.6 603.1 736.7 605C742.8 606.9 746.7 608.5 752.6 609.5C758.5 610.5 765.6 611.1 772.1 611C778.6 610.9 787.1 609.8 791.6 609C796.1 608.2 794.5 609 799.3 606.5C804.1 604 814.3 598.5 820.2 594C826.1 589.5 831.1 584.3 834.9 579.4C838.7 574.5 840.1 569.3 843.2 564.8C846.3 560.3 850.9 557.8 853.7 552.2C856.5 546.6 858.2 537.9 859.9 531.3C861.6 524.7 863 517.7 864.1 512.5C865.2 507.3 865.7 506.4 866.5 500C867.3 493.6 868.4 481.7 868.8 473.8C869.2 465.9 869.5 460.1 868.8 452.6C868.1 445.1 867 436.3 864.8 428.8C862.6 421.3 858.9 413.6 855.6 407.6C852.3 401.7 849.7 398 845 393.1C840.3 388.2 834.6 382.9 827.2 378.5C819.8 374.1 809.6 369.6 800.8 366.6C792 363.6 785.3 360.9 774.3 360.5C763.3 360.1 743.6 363 734.6 364C725.6 365 726.3 365.3 720 366.4Z"/>
<path d="M720 381.4C715.1 381.9 711 381.4 705.5 383.9C700 386.4 691.5 392 686.7 396.4C681.9 400.8 678.9 405.4 676.6 410.2C674.3 415 673.5 419.9 672.9 425.3C672.3 430.7 672.3 437.2 672.9 442.8C673.5 448.4 674.5 452.9 676.6 459.1C678.7 465.3 681.3 473.2 685.4 480C689.5 486.8 695.1 493.9 701.2 500C707.3 506.1 715.8 511.5 722.1 516.7C728.4 521.9 732.9 526.8 738.8 531.3C744.7 535.8 751.3 540.2 757.6 543.9C763.9 547.6 771.2 551.2 776.4 553.3C781.6 555.4 784.4 556 788.9 556.4C793.4 556.8 798.6 556.3 803.5 555.4C808.4 554.5 813.7 553.1 818.2 551.2C822.7 549.3 827.2 546.5 830.7 543.9C834.2 541.3 836.4 539 839 535.5C841.6 532 844.7 528.9 846.3 523C847.9 517.1 847.7 508.2 848.4 500C849.1 491.8 850 481.7 850.3 473.8C850.6 465.9 851.2 458.3 850.3 452.6C849.4 446.9 846.6 443.8 845 439.4C843.4 435 843.5 431 840.5 426.1C837.5 421.2 832.9 416 827.2 410.3C821.5 404.6 812.3 395.9 806.1 391.7C799.9 387.5 795.5 387.3 790.2 385.1C784.9 382.9 783.6 379.2 774.3 378.5C765 377.8 743.6 380.1 734.6 380.6C725.6 381.1 724.9 380.8 720 381.4Z"/>
</g>
</g>
<g stroke="#262626" stroke-width="1.6" fill="none">
<path d="M104.4 1119.9V1108.7 M104.4 9V20.2"/>
<path d="M337.6 1119.9V1108.7 M337.6 9V20.2"/>
<path d="M570.7 1119.9V1108.7 M570.7 9V20.2"/>
<path d="M803.9 1119.9V1108.7 M803.9 9V20.2"/>
<path d="M1037.1 1119.9V1108.7 M1037.1 9V20.2"/>
<path d="M104.4 1119.9H115.6 M1223.6 1119.9H1212.4"/>
<path d="M104.4 888.5H115.6 M1223.6 888.5H1212.4"/>
<path d="M104.4 657H115.6 M1223.6 657H1212.4"/>
<path d="M104.4 425.6H115.6 M1223.6 425.6H1212.4"/>
<path d="M104.4 194.1H115.6 M1223.6 194.1H1212.4"/>
</g>
<rect x="104.4" y="9" width="1119.2" height="1110.9" fill="none" stroke="#262626" stroke-width="1.9"/>
<g font-size="42.2" fill="#262626">
<text transform="matrix(1.0000 0 0 1.0500 92.67 1188.20)">0</text>
<text transform="matrix(1.0000 0 0 1.0500 314.10 1188.20)">5</text>
<text transform="matrix(1.0000 0 0 1.0500 337.57 1188.20)">0</text>
<path transform="matrix(0.02061 0 0 -0.02061 535.53 1187.40)" d="M725 0L555 0L555 1039L220 1039L220 1159C380 1170 540 1290 575 1460L725 1460Z"/>
<text transform="matrix(1.0000 0 0 1.0500 559.00 1188.20)">0</text>
<text transform="matrix(1.0000 0 0 1.0500 582.47 1188.20)">0</text>
<path transform="matrix(0.02061 0 0 -0.02061 768.70 1187.40)" d="M725 0L555 0L555 1039L220 1039L220 1159C380 1170 540 1290 575 1460L725 1460Z"/>
<text transform="matrix(1.0000 0 0 1.0500 792.17 1188.20)">5</text>
<text transform="matrix(1.0000 0 0 1.0500 815.63 1188.20)">0</text>
<text transform="matrix(1.0000 0 0 1.0500 1001.86 1188.20)">2</text>
<text transform="matrix(1.0000 0 0 1.0500 1025.33 1188.20)">0</text>
<text transform="matrix(1.0000 0 0 1.0500 1048.80 1188.20)">0</text>
<text transform="matrix(1.0000 0 0 1.0500 59.53 1138.10)">0</text>
<text transform="matrix(1.0000 0 0 1.0500 36.06 906.66)">5</text>
<text transform="matrix(1.0000 0 0 1.0500 59.53 906.66)">0</text>
<path transform="matrix(0.02061 0 0 -0.02061 12.59 674.43)" d="M725 0L555 0L555 1039L220 1039L220 1159C380 1170 540 1290 575 1460L725 1460Z"/>
<text transform="matrix(1.0000 0 0 1.0500 36.06 675.23)">0</text>
<text transform="matrix(1.0000 0 0 1.0500 59.53 675.23)">0</text>
<path transform="matrix(0.02061 0 0 -0.02061 12.59 442.99)" d="M725 0L555 0L555 1039L220 1039L220 1159C380 1170 540 1290 575 1460L725 1460Z"/>
<text transform="matrix(1.0000 0 0 1.0500 36.06 443.79)">5</text>
<text transform="matrix(1.0000 0 0 1.0500 59.53 443.79)">0</text>
<text transform="matrix(1.0000 0 0 1.0500 12.59 212.35)">2</text>
<text transform="matrix(1.0000 0 0 1.0500 36.06 212.35)">0</text>
<text transform="matrix(1.0000 0 0 1.0500 59.53 212.35)">0</text>
</g>
<g shape-rendering="crispEdges">
<rect x="1289.3" y="1102.54" width="62.3" height="17.66" fill="rgb(0,0,143)"/>
<rect x="1289.3" y="1085.18" width="62.3" height="17.66" fill="rgb(0,0,159)"/>
<rect x="1289.3" y="1067.83" width="62.3" height="17.66" fill="rgb(0,0,175)"/>
<rect x="1289.3" y="1050.47" width="62.3" height="17.66" fill="rgb(0,0,191)"/>
<rect x="1289.3" y="1033.11" width="62.3" height="17.66" fill="rgb(0,0,207)"/>
<rect x="1289.3" y="1015.75" width="62.3" height="17.66" fill="rgb(0,0,223)"/>
<rect x="1289.3" y="998.40" width="62.3" height="17.66" fill="rgb(0,0,239)"/>
<rect x="1289.3" y="981.04" width="62.3" height="17.66" fill="rgb(0,0,255)"/>
<rect x="1289.3" y="963.68" width="62.3" height="17.66" fill="rgb(0,16,255)"/>
<rect x="1289.3" y="946.32" width="62.3" height="17.66" fill="rgb(0,32,255)"/>
<rect x="1289.3" y="928.96" width="62.3" height="17.66" fill="rgb(0,48,255)"/>
<rect x="1289.3" y="911.61" width="62.3" height="17.66" fill="rgb(0,64,255)"/>
<rect x="1289.3" y="894.25" width="62.3" height="17.66" fill="rgb(0,80,255)"/>
<rect x="1289.3" y="876.89" width="62.3" height="17.66" fill="rgb(0,96,255)"/>
<rect x="1289.3" y="859.53" width="62.3" height="17.66" fill="rgb(0,112,255)"/>
<rect x="1289.3" y="842.18" width="62.3" height="17.66" fill="rgb(0,128,255)"/>
<rect x="1289.3" y="824.82" width="62.3" height="17.66" fill="rgb(0,143,255)"/>
<rect x="1289.3" y="807.46" width="62.3" height="17.66" fill="rgb(0,159,255)"/>
<rect x="1289.3" y="790.10" width="62.3" height="17.66" fill="rgb(0,175,255)"/>
<rect x="1289.3" y="772.74" width="62.3" height="17.66" fill="rgb(0,191,255)"/>
<rect x="1289.3" y="755.39" width="62.3" height="17.66" fill="rgb(0,207,255)"/>
<rect x="1289.3" y="738.03" width="62.3" height="17.66" fill="rgb(0,223,255)"/>
<rect x="1289.3" y="720.67" width="62.3" height="17.66" fill="rgb(0,239,255)"/>
<rect x="1289.3" y="703.31" width="62.3" height="17.66" fill="rgb(0,255,255)"/>
<rect x="1289.3" y="685.95" width="62.3" height="17.66" fill="rgb(16,255,239)"/>
<rect x="1289.3" y="668.60" width="62.3" height="17.66" fill="rgb(32,255,223)"/>
<rect x="1289.3" y="651.24" width="62.3" height="17.66" fill="rgb(48,255,207)"/>
<rect x="1289.3" y="633.88" width="62.3" height="17.66" fill="rgb(64,255,191)"/>
<rect x="1289.3" y="616.52" width="62.3" height="17.66" fill="rgb(80,255,175)"/>
<rect x="1289.3" y="599.17" width="62.3" height="17.66" fill="rgb(96,255,159)"/>
<rect x="1289.3" y="581.81" width="62.3" height="17.66" fill="rgb(112,255,143)"/>
<rect x="1289.3" y="564.45" width="62.3" height="17.66" fill="rgb(128,255,128)"/>
<rect x="1289.3" y="547.09" width="62.3" height="17.66" fill="rgb(143,255,112)"/>
<rect x="1289.3" y="529.73" width="62.3" height="17.66" fill="rgb(159,255,96)"/>
<rect x="1289.3" y="512.38" width="62.3" height="17.66" fill="rgb(175,255,80)"/>
<rect x="1289.3" y="495.02" width="62.3" height="17.66" fill="rgb(191,255,64)"/>
<rect x="1289.3" y="477.66" width="62.3" height="17.66" fill="rgb(207,255,48)"/>
<rect x="1289.3" y="460.30" width="62.3" height="17.66" fill="rgb(223,255,32)"/>
<rect x="1289.3" y="442.95" width="62.3" height="17.66" fill="rgb(239,255,16)"/>
<rect x="1289.3" y="425.59" width="62.3" height="17.66" fill="rgb(255,255,0)"/>
<rect x="1289.3" y="408.23" width="62.3" height="17.66" fill="rgb(255,239,0)"/>
<rect x="1289.3" y="390.87" width="62.3" height="17.66" fill="rgb(255,223,0)"/>
<rect x="1289.3" y="373.51" width="62.3" height="17.66" fill="rgb(255,207,0)"/>
<rect x="1289.3" y="356.16" width="62.3" height="17.66" fill="rgb(255,191,0)"/>
<rect x="1289.3" y="338.80" width="62.3" height="17.66" fill="rgb(255,175,0)"/>
<rect x="1289.3" y="321.44" width="62.3" height="17.66" fill="rgb(255,159,0)"/>
<rect x="1289.3" y="304.08" width="62.3" height="17.66" fill="rgb(255,143,0)"/>
<rect x="1289.3" y="286.73" width="62.3" height="17.66" fill="rgb(255,128,0)"/>
<rect x="1289.3" y="269.37" width="62.3" height="17.66" fill="rgb(255,112,0)"/>
<rect x="1289.3" y="252.01" width="62.3" height="17.66" fill="rgb(255,96,0)"/>
<rect x="1289.3" y="234.65" width="62.3" height="17.66" fill="rgb(255,80,0)"/>
<rect x="1289.3" y="217.29" width="62.3" height="17.66" fill="rgb(255,64,0)"/>
<rect x="1289.3" y="199.94" width="62.3" height="17.66" fill="rgb(255,48,0)"/>
<rect x="1289.3" y="182.58" width="62.3" height="17.66" fill="rgb(255,32,0)"/>
<rect x="1289.3" y="165.22" width="62.3" height="17.66" fill="rgb(255,16,0)"/>
<rect x="1289.3" y="147.86" width="62.3" height="17.66" fill="rgb(255,0,0)"/>
<rect x="1289.3" y="130.50" width="62.3" height="17.66" fill="rgb(239,0,0)"/>
<rect x="1289.3" y="113.15" width="62.3" height="17.66" fill="rgb(223,0,0)"/>
<rect x="1289.3" y="95.79" width="62.3" height="17.66" fill="rgb(207,0,0)"/>
<rect x="1289.3" y="78.43" width="62.3" height="17.66" fill="rgb(191,0,0)"/>
<rect x="1289.3" y="61.07" width="62.3" height="17.66" fill="rgb(175,0,0)"/>
<rect x="1289.3" y="43.72" width="62.3" height="17.66" fill="rgb(159,0,0)"/>
<rect x="1289.3" y="26.36" width="62.3" height="17.66" fill="rgb(143,0,0)"/>
<rect x="1289.3" y="9.00" width="62.3" height="17.66" fill="rgb(128,0,0)"/>
</g>
<g stroke="#262626" stroke-width="1.6" fill="none">
<path d="M1289.3 1004.5H1300.3 M1351.6 1004.5H1340.6"/>
<path d="M1289.3 862.1H1300.3 M1351.6 862.1H1340.6"/>
<path d="M1289.3 719.7H1300.3 M1351.6 719.7H1340.6"/>
<path d="M1289.3 577.3H1300.3 M1351.6 577.3H1340.6"/>
<path d="M1289.3 434.8H1300.3 M1351.6 434.8H1340.6"/>
<path d="M1289.3 292.4H1300.3 M1351.6 292.4H1340.6"/>
<path d="M1289.3 150H1300.3 M1351.6 150H1340.6"/>
</g>
<rect x="1289.3" y="9" width="62.3" height="1110.9" fill="none" stroke="#262626" stroke-width="1.9"/>
<g font-size="39.7" fill="#262626">
<text transform="matrix(1.0500 0 0 1.0000 1370.80 1020.84)">0</text>
<text transform="matrix(1.0500 0 0 1.0000 1393.98 1020.84)">.</text>
<text transform="matrix(1.0500 0 0 1.0000 1405.56 1020.84)">8</text>
<path transform="matrix(0.02035 0 0 -0.01880 1370.80 877.61)" d="M725 0L555 0L555 1039L220 1039L220 1159C380 1170 540 1290 575 1460L725 1460Z"/>
<path transform="matrix(0.02035 0 0 -0.01880 1370.80 735.19)" d="M725 0L555 0L555 1039L220 1039L220 1159C380 1170 540 1290 575 1460L725 1460Z"/>
<text transform="matrix(1.0500 0 0 1.0000 1393.98 735.99)">.</text>
<text transform="matrix(1.0500 0 0 1.0000 1405.56 735.99)">2</text>
<path transform="matrix(0.02035 0 0 -0.01880 1370.80 592.77)" d="M725 0L555 0L555 1039L220 1039L220 1159C380 1170 540 1290 575 1460L725 1460Z"/>
<text transform="matrix(1.0500 0 0 1.0000 1393.98 593.57)">.</text>
<text transform="matrix(1.0500 0 0 1.0000 1405.56 593.57)">4</text>
<path transform="matrix(0.02035 0 0 -0.01880 1370.80 450.35)" d="M725 0L555 0L555 1039L220 1039L220 1159C380 1170 540 1290 575 1460L725 1460Z"/>
<text transform="matrix(1.0500 0 0 1.0000 1393.98 451.15)">.</text>
<text transform="matrix(1.0500 0 0 1.0000 1405.56 451.15)">6</text>
<path transform="matrix(0.02035 0 0 -0.01880 1370.80 307.92)" d="M725 0L555 0L555 1039L220 1039L220 1159C380 1170 540 1290 575 1460L725 1460Z"/>
<text transform="matrix(1.0500 0 0 1.0000 1393.98 308.72)">.</text>
<text transform="matrix(1.0500 0 0 1.0000 1405.56 308.72)">8</text>
<text transform="matrix(1.0500 0 0 1.0000 1370.80 166.30)">2</text>
</g>
</svg>
</body></html>
